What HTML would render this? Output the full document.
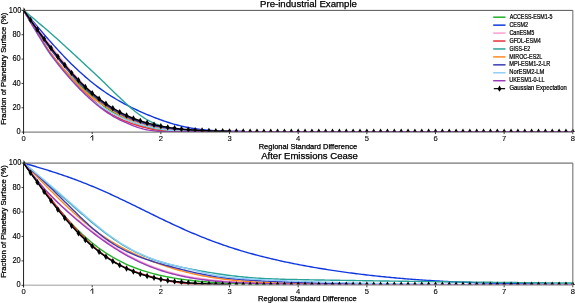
<!DOCTYPE html>
<html><head><meta charset="utf-8"><style>html,body{margin:0;padding:0;background:#fff;overflow:hidden}svg{display:block;will-change:transform}</style></head>
<body><svg width="575" height="303" viewBox="0 0 575 303">
<style>
text{font-family:"Liberation Sans",sans-serif;fill:#000;stroke:#000;stroke-width:0.25px}
.yt{stroke-width:0.15px}
.xt{font-size:7.6px;stroke-width:0.1px}
.lg{stroke-width:0.22px}
</style>
<rect width="575" height="303" fill="#fff"/>
<clipPath id="c10"><rect x="23.55" y="7.199999999999999" width="552.28" height="124.79999999999998"/></clipPath>
<g clip-path="url(#c10)" fill="none" stroke-width="1.4" stroke-linejoin="round">
<path d="M23.55,10.20 L25.27,13.05 L26.98,15.90 L28.70,18.73 L30.42,21.55 L32.13,24.36 L33.85,27.15 L35.57,29.91 L37.28,32.67 L39.00,35.44 L40.72,38.22 L42.43,41.01 L44.15,43.76 L45.86,46.47 L47.58,49.09 L49.30,51.59 L51.01,53.97 L52.73,56.21 L54.45,58.36 L56.16,60.46 L57.88,62.51 L59.60,64.50 L61.31,66.45 L63.03,68.36 L64.75,70.23 L66.46,72.06 L68.18,73.87 L69.90,75.66 L71.61,77.41 L73.33,79.13 L75.05,80.79 L76.76,82.40 L78.48,83.97 L80.19,85.51 L81.91,87.03 L83.63,88.54 L85.34,90.06 L87.06,91.60 L88.78,93.14 L90.49,94.70 L92.21,96.25 L93.93,97.78 L95.64,99.29 L97.36,100.78 L99.08,102.24 L100.79,103.65 L102.51,105.02 L104.23,106.34 L105.94,107.60 L107.66,108.80 L109.37,109.95 L111.09,111.06 L112.81,112.13 L114.52,113.17 L116.24,114.17 L117.96,115.14 L119.67,116.07 L121.39,116.97 L123.11,117.84 L124.82,118.67 L126.54,119.48 L128.26,120.25 L129.97,120.99 L131.69,121.71 L133.41,122.39 L135.12,123.05 L136.84,123.69 L138.56,124.30 L140.27,124.88 L141.99,125.43 L143.71,125.96 L145.42,126.45 L147.14,126.90 L148.85,127.34 L150.57,127.74 L152.29,128.12 L154.00,128.47 L155.72,128.80 L157.44,129.11 L159.15,129.41 L160.87,129.68 L162.59,129.93 L164.30,130.14 L166.02,130.32 L167.74,130.48 L169.45,130.61 L171.17,130.72 L172.89,130.81 L174.60,130.88 L176.32,130.95 L178.03,131.00 L179.75,131.05 L181.47,131.10 L183.18,131.14 L184.90,131.17 L186.62,131.20 L188.33,131.21 L190.05,131.22 L191.77,131.22 L193.48,131.21 L195.20,131.19 L196.92,131.17 L198.63,131.14 L200.35,131.10 L202.07,131.07 L203.78,131.13 L205.50,131.22 L207.22,131.29 L208.93,131.36 L210.65,131.42 L212.37,131.48 L214.08,131.53 L215.80,131.58" stroke="#22b026"/>
<path d="M23.55,10.20 L25.27,12.25 L26.98,14.30 L28.70,16.34 L30.42,18.39 L32.13,20.43 L33.85,22.46 L35.57,24.49 L37.28,26.51 L39.00,28.52 L40.72,30.53 L42.43,32.52 L44.15,34.51 L45.86,36.48 L47.58,38.44 L49.30,40.39 L51.01,42.33 L52.73,44.24 L54.45,46.15 L56.16,48.03 L57.88,49.90 L59.60,51.75 L61.31,53.58 L63.03,55.39 L64.75,57.18 L66.46,58.95 L68.18,60.70 L69.90,62.43 L71.61,64.13 L73.33,65.81 L75.05,67.46 L76.76,69.09 L78.48,70.70 L80.19,72.28 L81.91,73.83 L83.63,75.35 L85.34,76.85 L87.06,78.33 L88.78,79.77 L90.49,81.19 L92.21,82.58 L93.93,83.94 L95.64,85.28 L97.36,86.59 L99.08,87.87 L100.79,89.12 L102.51,90.35 L104.23,91.55 L105.94,92.72 L107.66,93.87 L109.37,94.99 L111.09,96.09 L112.81,97.16 L114.52,98.21 L116.24,99.23 L117.96,100.24 L119.67,101.22 L121.39,102.18 L123.11,103.12 L124.82,104.04 L126.54,104.94 L128.26,105.83 L129.97,106.69 L131.69,107.54 L133.41,108.38 L135.12,109.20 L136.84,110.00 L138.56,110.79 L140.27,111.57 L141.99,112.33 L143.71,113.08 L145.42,113.82 L147.14,114.55 L148.85,115.26 L150.57,115.96 L152.29,116.65 L154.00,117.33 L155.72,117.99 L157.44,118.64 L159.15,119.27 L160.87,119.90 L162.59,120.50 L164.30,121.10 L166.02,121.67 L167.74,122.23 L169.45,122.78 L171.17,123.30 L172.89,123.81 L174.60,124.31 L176.32,124.78 L178.03,125.23 L179.75,125.67 L181.47,126.09 L183.18,126.49 L184.90,126.86 L186.62,127.22 L188.33,127.56 L190.05,127.88 L191.77,128.19 L193.48,128.47 L195.20,128.74 L196.92,128.99 L198.63,129.22 L200.35,129.44 L202.07,129.64 L203.78,129.82 L205.50,129.99 L207.22,130.15 L208.93,130.30 L210.65,130.43 L212.37,130.55 L214.08,130.66 L215.80,130.76 L217.51,130.86 L219.23,130.94 L220.95,131.02 L222.66,131.08 L224.38,131.15 L226.10,131.20 L227.81,131.25 L229.53,131.30 L231.25,131.34 L232.96,131.38 L234.68,131.41 L236.40,131.44 L238.11,131.47 L239.83,131.49 L241.55,131.51 L243.26,131.53 L244.98,131.55" stroke="#1038e0"/>
<path d="M23.55,10.20 L25.27,12.45 L26.98,14.70 L28.70,16.96 L30.42,19.22 L32.13,21.48 L33.85,23.74 L35.57,26.00 L37.28,28.26 L39.00,30.50 L40.72,32.73 L42.43,34.95 L44.15,37.15 L45.86,39.35 L47.58,41.55 L49.30,43.75 L51.01,45.97 L52.73,48.19 L54.45,50.40 L56.16,52.60 L57.88,54.79 L59.60,56.95 L61.31,59.09 L63.03,61.21 L64.75,63.31 L66.46,65.38 L68.18,67.42 L69.90,69.42 L71.61,71.40 L73.33,73.36 L75.05,75.30 L76.76,77.22 L78.48,79.12 L80.19,80.98 L81.91,82.81 L83.63,84.60 L85.34,86.34 L87.06,88.03 L88.78,89.66 L90.49,91.24 L92.21,92.78 L93.93,94.27 L95.64,95.73 L97.36,97.15 L99.08,98.53 L100.79,99.87 L102.51,101.18 L104.23,102.45 L105.94,103.69 L107.66,104.89 L109.37,106.07 L111.09,107.21 L112.81,108.33 L114.52,109.42 L116.24,110.47 L117.96,111.48 L119.67,112.46 L121.39,113.40 L123.11,114.30 L124.82,115.15 L126.54,115.97 L128.26,116.74 L129.97,117.48 L131.69,118.20 L133.41,118.89 L135.12,119.55 L136.84,120.18 L138.56,120.79 L140.27,121.37 L141.99,121.93 L143.71,122.47 L145.42,122.98 L147.14,123.47 L148.85,123.94 L150.57,124.39 L152.29,124.81 L154.00,125.22 L155.72,125.61 L157.44,125.98 L159.15,126.34 L160.87,126.67 L162.59,126.99 L164.30,127.29 L166.02,127.57 L167.74,127.83 L169.45,128.07 L171.17,128.30 L172.89,128.51 L174.60,128.71 L176.32,128.90 L178.03,129.07 L179.75,129.24 L181.47,129.39 L183.18,129.54 L184.90,129.68 L186.62,129.80 L188.33,129.92 L190.05,130.03 L191.77,130.13 L193.48,130.22 L195.20,130.30 L196.92,130.38 L198.63,130.45 L200.35,130.51 L202.07,130.57 L203.78,130.64 L205.50,130.72 L207.22,130.79 L208.93,130.86 L210.65,130.92 L212.37,130.98 L214.08,131.03 L215.80,131.08 L217.51,131.13 L219.23,131.17 L220.95,131.21 L222.66,131.25 L224.38,131.28 L226.10,131.31 L227.81,131.34 L229.53,131.37 L231.25,131.40 L232.96,131.42 L234.68,131.44 L236.40,131.46 L238.11,131.48 L239.83,131.50 L241.55,131.52 L243.26,131.53" stroke="#ff9fcf"/>
<path d="M23.55,10.20 L25.27,13.05 L26.98,15.90 L28.70,18.73 L30.42,21.55 L32.13,24.36 L33.85,27.15 L35.57,29.91 L37.28,32.67 L39.00,35.44 L40.72,38.22 L42.43,41.01 L44.15,43.76 L45.86,46.47 L47.58,49.09 L49.30,51.58 L51.01,53.97 L52.73,56.22 L54.45,58.40 L56.16,60.56 L57.88,62.69 L59.60,64.80 L61.31,66.87 L63.03,68.91 L64.75,70.93 L66.46,72.91 L68.18,74.87 L69.90,76.81 L71.61,78.72 L73.33,80.60 L75.05,82.46 L76.76,84.28 L78.48,86.08 L80.19,87.84 L81.91,89.57 L83.63,91.27 L85.34,92.94 L87.06,94.56 L88.78,96.16 L90.49,97.75 L92.21,99.31 L93.93,100.86 L95.64,102.37 L97.36,103.86 L99.08,105.31 L100.79,106.72 L102.51,108.08 L104.23,109.38 L105.94,110.63 L107.66,111.81 L109.37,112.93 L111.09,113.99 L112.81,114.99 L114.52,115.93 L116.24,116.83 L117.96,117.68 L119.67,118.50 L121.39,119.28 L123.11,120.03 L124.82,120.77 L126.54,121.48 L128.26,122.17 L129.97,122.84 L131.69,123.48 L133.41,124.09 L135.12,124.68 L136.84,125.24 L138.56,125.77 L140.27,126.28 L141.99,126.77 L143.71,127.24 L145.42,127.68 L147.14,128.11 L148.85,128.51 L150.57,128.89 L152.29,129.25 L154.00,129.58 L155.72,129.90 L157.44,130.18 L159.15,130.45 L160.87,130.68 L162.59,130.89 L164.30,131.06 L166.02,131.19 L167.74,131.30 L169.45,131.39 L171.17,131.45 L172.89,131.49 L174.60,131.53 L176.32,131.55" stroke="#e8303c"/>
<path d="M23.55,10.20 L25.27,11.63 L26.98,13.06 L28.70,14.50 L30.42,15.94 L32.13,17.38 L33.85,18.83 L35.57,20.27 L37.28,21.72 L39.00,23.18 L40.72,24.63 L42.43,26.10 L44.15,27.57 L45.86,29.06 L47.58,30.54 L49.30,32.04 L51.01,33.53 L52.73,35.04 L54.45,36.55 L56.16,38.07 L57.88,39.60 L59.60,41.14 L61.31,42.69 L63.03,44.25 L64.75,45.81 L66.46,47.39 L68.18,48.96 L69.90,50.54 L71.61,52.12 L73.33,53.70 L75.05,55.29 L76.76,56.88 L78.48,58.48 L80.19,60.08 L81.91,61.68 L83.63,63.28 L85.34,64.87 L87.06,66.47 L88.78,68.05 L90.49,69.63 L92.21,71.22 L93.93,72.80 L95.64,74.40 L97.36,76.01 L99.08,77.63 L100.79,79.28 L102.51,80.94 L104.23,82.62 L105.94,84.30 L107.66,85.99 L109.37,87.67 L111.09,89.34 L112.81,91.00 L114.52,92.65 L116.24,94.30 L117.96,95.94 L119.67,97.58 L121.39,99.21 L123.11,100.82 L124.82,102.42 L126.54,104.00 L128.26,105.56 L129.97,107.12 L131.69,108.63 L133.41,110.07 L135.12,111.45 L136.84,112.78 L138.56,114.06 L140.27,115.30 L141.99,116.50 L143.71,117.67 L145.42,118.77 L147.14,119.79 L148.85,120.73 L150.57,121.60 L152.29,122.42 L154.00,123.19 L155.72,123.93 L157.44,124.62 L159.15,125.27 L160.87,125.87 L162.59,126.41 L164.30,126.91 L166.02,127.38 L167.74,127.81 L169.45,128.22 L171.17,128.61 L172.89,128.96 L174.60,129.27 L176.32,129.54 L178.03,129.80 L179.75,130.04 L181.47,130.27 L183.18,130.48 L184.90,130.67 L186.62,130.83 L188.33,130.97 L190.05,131.10 L191.77,131.23 L193.48,131.35 L195.20,131.46 L196.92,131.56 L198.63,131.63" stroke="#2aa39a"/>
<path d="M23.55,10.20 L25.27,13.03 L26.98,15.86 L28.70,18.67 L30.42,21.46 L32.13,24.24 L33.85,27.01 L35.57,29.74 L37.28,32.47 L39.00,35.20 L40.72,37.94 L42.43,40.68 L44.15,43.39 L45.86,46.05 L47.58,48.63 L49.30,51.10 L51.01,53.47 L52.73,55.72 L54.45,57.89 L56.16,60.04 L57.88,62.16 L59.60,64.24 L61.31,66.29 L63.03,68.31 L64.75,70.29 L66.46,72.24 L68.18,74.16 L69.90,76.05 L71.61,77.92 L73.33,79.75 L75.05,81.55 L76.76,83.32 L78.48,85.05 L80.19,86.75 L81.91,88.40 L83.63,90.02 L85.34,91.59 L87.06,93.13 L88.78,94.61 L90.49,96.03 L92.21,97.39 L93.93,98.68 L95.64,99.93 L97.36,101.13 L99.08,102.29 L100.79,103.43 L102.51,104.54 L104.23,105.64 L105.94,106.73 L107.66,107.82 L109.37,108.90 L111.09,109.95 L112.81,110.97 L114.52,111.96 L116.24,112.93 L117.96,113.86 L119.67,114.76 L121.39,115.63 L123.11,116.47 L124.82,117.29 L126.54,118.07 L128.26,118.83 L129.97,119.55 L131.69,120.25 L133.41,120.92 L135.12,121.57 L136.84,122.19 L138.56,122.80 L140.27,123.38 L141.99,123.94 L143.71,124.47 L145.42,124.98 L147.14,125.48 L148.85,125.94 L150.57,126.39 L152.29,126.82 L154.00,127.23 L155.72,127.62 L157.44,127.99 L159.15,128.35 L160.87,128.68 L162.59,128.98 L164.30,129.25 L166.02,129.48 L167.74,129.68 L169.45,129.85 L171.17,130.00 L172.89,130.12 L174.60,130.23 L176.32,130.33 L178.03,130.42 L179.75,130.51 L181.47,130.60 L183.18,130.68 L184.90,130.76 L186.62,130.82 L188.33,130.88 L190.05,130.93 L191.77,130.97 L193.48,131.00 L195.20,131.03 L196.92,131.05 L198.63,131.06 L200.35,131.06 L202.07,131.07 L203.78,131.13 L205.50,131.22 L207.22,131.29 L208.93,131.36 L210.65,131.42 L212.37,131.48 L214.08,131.53 L215.80,131.58" stroke="#ff8a22"/>
<path d="M23.55,10.20 L25.27,12.74 L26.98,15.27 L28.70,17.81 L30.42,20.33 L32.13,22.86 L33.85,25.37 L35.57,27.87 L37.28,30.36 L39.00,32.86 L40.72,35.34 L42.43,37.83 L44.15,40.29 L45.86,42.73 L47.58,45.13 L49.30,47.47 L51.01,49.77 L52.73,52.00 L54.45,54.20 L56.16,56.38 L57.88,58.53 L59.60,60.66 L61.31,62.75 L63.03,64.82 L64.75,66.86 L66.46,68.87 L68.18,70.85 L69.90,72.80 L71.61,74.71 L73.33,76.58 L75.05,78.42 L76.76,80.21 L78.48,81.96 L80.19,83.67 L81.91,85.35 L83.63,87.00 L85.34,88.61 L87.06,90.19 L88.78,91.73 L90.49,93.25 L92.21,94.72 L93.93,96.17 L95.64,97.57 L97.36,98.94 L99.08,100.28 L100.79,101.58 L102.51,102.84 L104.23,104.06 L105.94,105.25 L107.66,106.41 L109.37,107.52 L111.09,108.61 L112.81,109.66 L114.52,110.67 L116.24,111.65 L117.96,112.60 L119.67,113.52 L121.39,114.40 L123.11,115.26 L124.82,116.08 L126.54,116.87 L128.26,117.63 L129.97,118.36 L131.69,119.07 L133.41,119.74 L135.12,120.39 L136.84,121.01 L138.56,121.61 L140.27,122.17 L141.99,122.72 L143.71,123.23 L145.42,123.72 L147.14,124.19 L148.85,124.63 L150.57,125.06 L152.29,125.46 L154.00,125.84 L155.72,126.20 L157.44,126.54 L159.15,126.87 L160.87,127.17 L162.59,127.47 L164.30,127.74 L166.02,128.00 L167.74,128.24 L169.45,128.47 L171.17,128.69 L172.89,128.89 L174.60,129.07 L176.32,129.25 L178.03,129.41 L179.75,129.56 L181.47,129.70 L183.18,129.82 L184.90,129.94 L186.62,130.04 L188.33,130.13 L190.05,130.22 L191.77,130.29 L193.48,130.36 L195.20,130.42 L196.92,130.46 L198.63,130.51 L200.35,130.53 L202.07,130.57 L203.78,130.64 L205.50,130.72 L207.22,130.79 L208.93,130.86 L210.65,130.92 L212.37,130.98 L214.08,131.03 L215.80,131.08 L217.51,131.13 L219.23,131.17 L220.95,131.21 L222.66,131.25 L224.38,131.28 L226.10,131.31 L227.81,131.34 L229.53,131.37 L231.25,131.40 L232.96,131.42 L234.68,131.44 L236.40,131.46 L238.11,131.48 L239.83,131.50 L241.55,131.52 L243.26,131.53" stroke="#3b3bb8"/>
<path d="M23.55,10.20 L25.27,13.21 L26.98,16.20 L28.70,19.17 L30.42,22.12 L32.13,25.05 L33.85,27.95 L35.57,30.82 L37.28,33.67 L39.00,36.53 L40.72,39.39 L42.43,42.26 L44.15,45.09 L45.86,47.86 L47.58,50.53 L49.30,53.07 L51.01,55.47 L52.73,57.73 L54.45,59.90 L56.16,62.05 L57.88,64.18 L59.60,66.26 L61.31,68.32 L63.03,70.35 L64.75,72.36 L66.46,74.33 L68.18,76.28 L69.90,78.22 L71.61,80.12 L73.33,82.00 L75.05,83.85 L76.76,85.66 L78.48,87.44 L80.19,89.18 L81.91,90.89 L83.63,92.56 L85.34,94.19 L87.06,95.80 L88.78,97.35 L90.49,98.82 L92.21,100.23 L93.93,101.55 L95.64,102.81 L97.36,104.01 L99.08,105.17 L100.79,106.28 L102.51,107.35 L104.23,108.40 L105.94,109.42 L107.66,110.44 L109.37,111.44 L111.09,112.41 L112.81,113.35 L114.52,114.26 L116.24,115.13 L117.96,115.98 L119.67,116.80 L121.39,117.58 L123.11,118.34 L124.82,119.07 L126.54,119.78 L128.26,120.45 L129.97,121.10 L131.69,121.72 L133.41,122.31 L135.12,122.88 L136.84,123.43 L138.56,123.97 L140.27,124.48 L141.99,124.98 L143.71,125.46 L145.42,125.92 L147.14,126.36 L148.85,126.79 L150.57,127.19 L152.29,127.58 L154.00,127.94 L155.72,128.28 L157.44,128.60 L159.15,128.90 L160.87,129.18 L162.59,129.43 L164.30,129.67 L166.02,129.89 L167.74,130.08 L169.45,130.26 L171.17,130.43 L172.89,130.58 L174.60,130.71 L176.32,130.83 L178.03,130.93 L179.75,131.02 L181.47,131.10 L183.18,131.16 L184.90,131.21 L186.62,131.25 L188.33,131.27 L190.05,131.28 L191.77,131.29 L193.48,131.28 L195.20,131.25 L196.92,131.22 L198.63,131.18 L200.35,131.11 L202.07,131.07 L203.78,131.13 L205.50,131.22 L207.22,131.29 L208.93,131.36 L210.65,131.42 L212.37,131.48 L214.08,131.53 L215.80,131.58" stroke="#8fcdfa"/>
<path d="M23.55,10.20 L25.27,13.15 L26.98,16.09 L28.70,19.01 L30.42,21.91 L32.13,24.79 L33.85,27.64 L35.57,30.46 L37.28,33.27 L39.00,36.07 L40.72,38.87 L42.43,41.67 L44.15,44.43 L45.86,47.14 L47.58,49.77 L49.30,52.31 L51.01,54.74 L52.73,57.07 L54.45,59.33 L56.16,61.57 L57.88,63.77 L59.60,65.95 L61.31,68.08 L63.03,70.19 L64.75,72.26 L66.46,74.30 L68.18,76.31 L69.90,78.28 L71.61,80.22 L73.33,82.13 L75.05,84.00 L76.76,85.83 L78.48,87.63 L80.19,89.39 L81.91,91.11 L83.63,92.80 L85.34,94.45 L87.06,96.07 L88.78,97.66 L90.49,99.22 L92.21,100.75 L93.93,102.24 L95.64,103.70 L97.36,105.13 L99.08,106.52 L100.79,107.86 L102.51,109.17 L104.23,110.43 L105.94,111.65 L107.66,112.82 L109.37,113.94 L111.09,115.02 L112.81,116.05 L114.52,117.03 L116.24,117.98 L117.96,118.89 L119.67,119.77 L121.39,120.61 L123.11,121.43 L124.82,122.22 L126.54,122.98 L128.26,123.73 L129.97,124.45 L131.69,125.15 L133.41,125.81 L135.12,126.45 L136.84,127.06 L138.56,127.65 L140.27,128.19 L141.99,128.68 L143.71,129.13 L145.42,129.52 L147.14,129.86 L148.85,130.16 L150.57,130.42 L152.29,130.65 L154.00,130.85 L155.72,131.03 L157.44,131.19 L159.15,131.35 L160.87,131.48 L162.59,131.62 L572.83,131.70" stroke="#9a3cb8"/>
<path d="M23.55,10.20 L25.27,12.62 L26.98,15.05 L28.70,17.46 L30.42,19.88 L32.13,22.29 L33.85,24.69 L35.57,27.08 L37.28,29.46 L39.00,31.83 L40.72,34.19 L42.43,36.53 L44.15,38.85 L45.86,41.16 L47.58,43.45 L49.30,45.72 L51.01,47.97 L52.73,50.19 L54.45,52.40 L56.16,54.57 L57.88,56.73 L59.60,58.85 L61.31,60.95 L63.03,63.02 L64.75,65.06 L66.46,67.07 L68.18,69.04 L69.90,70.99 L71.61,72.90 L73.33,74.78 L75.05,76.63 L76.76,78.44 L78.48,80.22 L80.19,81.96 L81.91,83.67 L83.63,85.34 L85.34,86.97 L87.06,88.57 L88.78,90.13 L90.49,91.66 L92.21,93.15 L93.93,94.60 L95.64,96.01 L97.36,97.39 L99.08,98.73 L100.79,100.04 L102.51,101.31 L104.23,102.54 L105.94,103.74 L107.66,104.90 L109.37,106.03 L111.09,107.12 L112.81,108.18 L114.52,109.20 L116.24,110.19 L117.96,111.15 L119.67,112.08 L121.39,112.97 L123.11,113.83 L124.82,114.66 L126.54,115.47 L128.26,116.24 L129.97,116.98 L131.69,117.70 L133.41,118.38 L135.12,119.04 L136.84,119.68 L138.56,120.29 L140.27,120.87 L141.99,121.43 L143.71,121.97 L145.42,122.48 L147.14,122.97 L148.85,123.44 L150.57,123.89 L152.29,124.31 L154.00,124.72 L155.72,125.11 L157.44,125.48 L159.15,125.84 L160.87,126.17 L162.59,126.49 L164.30,126.80 L166.02,127.08 L167.74,127.36 L169.45,127.62 L171.17,127.87 L172.89,128.10 L174.60,128.32 L176.32,128.53 L178.03,128.73 L179.75,128.92 L181.47,129.09 L183.18,129.26 L184.90,129.42 L186.62,129.57 L188.33,129.71 L190.05,129.84 L191.77,129.96 L193.48,130.08 L195.20,130.19 L196.92,130.29 L198.63,130.39 L200.35,130.48 L202.07,130.57 L203.78,130.65 L205.50,130.72 L207.22,130.79 L208.93,130.86 L210.65,130.92 L212.37,130.98 L214.08,131.03 L215.80,131.08 L217.51,131.13 L219.23,131.17 L220.95,131.21 L222.66,131.25 L224.38,131.28 L226.10,131.31 L227.81,131.34 L229.53,131.37" stroke="#000" stroke-width="1.5"/>
<path d="M23.55,7.00 L25.45,10.20 L23.55,13.40 L21.65,10.20Z" fill="#000" stroke="none"/>
<path d="M30.42,16.68 L32.32,19.88 L30.42,23.08 L28.52,19.88Z" fill="#000" stroke="none"/>
<path d="M37.28,26.26 L39.18,29.46 L37.28,32.66 L35.38,29.46Z" fill="#000" stroke="none"/>
<path d="M44.15,35.65 L46.05,38.85 L44.15,42.05 L42.25,38.85Z" fill="#000" stroke="none"/>
<path d="M51.01,44.77 L52.91,47.97 L51.01,51.17 L49.11,47.97Z" fill="#000" stroke="none"/>
<path d="M57.88,53.53 L59.78,56.73 L57.88,59.93 L55.98,56.73Z" fill="#000" stroke="none"/>
<path d="M64.75,61.86 L66.65,65.06 L64.75,68.26 L62.85,65.06Z" fill="#000" stroke="none"/>
<path d="M71.61,69.70 L73.51,72.90 L71.61,76.10 L69.71,72.90Z" fill="#000" stroke="none"/>
<path d="M78.48,77.02 L80.38,80.22 L78.48,83.42 L76.58,80.22Z" fill="#000" stroke="none"/>
<path d="M85.34,83.77 L87.24,86.97 L85.34,90.17 L83.44,86.97Z" fill="#000" stroke="none"/>
<path d="M92.21,89.95 L94.11,93.15 L92.21,96.35 L90.31,93.15Z" fill="#000" stroke="none"/>
<path d="M99.08,95.53 L100.98,98.73 L99.08,101.93 L97.18,98.73Z" fill="#000" stroke="none"/>
<path d="M105.94,100.54 L107.84,103.74 L105.94,106.94 L104.04,103.74Z" fill="#000" stroke="none"/>
<path d="M112.81,104.98 L114.71,108.18 L112.81,111.38 L110.91,108.18Z" fill="#000" stroke="none"/>
<path d="M119.67,108.88 L121.57,112.08 L119.67,115.28 L117.77,112.08Z" fill="#000" stroke="none"/>
<path d="M126.54,112.27 L128.44,115.47 L126.54,118.67 L124.64,115.47Z" fill="#000" stroke="none"/>
<path d="M133.41,115.18 L135.31,118.38 L133.41,121.58 L131.51,118.38Z" fill="#000" stroke="none"/>
<path d="M140.27,117.67 L142.17,120.87 L140.27,124.07 L138.37,120.87Z" fill="#000" stroke="none"/>
<path d="M147.14,119.77 L149.04,122.97 L147.14,126.17 L145.24,122.97Z" fill="#000" stroke="none"/>
<path d="M154.00,121.52 L155.90,124.72 L154.00,127.92 L152.10,124.72Z" fill="#000" stroke="none"/>
<path d="M160.87,122.97 L162.77,126.17 L160.87,129.37 L158.97,126.17Z" fill="#000" stroke="none"/>
<path d="M167.74,124.16 L169.64,127.36 L167.74,130.56 L165.84,127.36Z" fill="#000" stroke="none"/>
<path d="M174.60,125.12 L176.50,128.32 L174.60,131.52 L172.70,128.32Z" fill="#000" stroke="none"/>
<path d="M181.47,125.89 L183.37,129.09 L181.47,132.29 L179.57,129.09Z" fill="#000" stroke="none"/>
<path d="M188.33,126.51 L190.23,129.71 L188.33,132.91 L186.43,129.71Z" fill="#000" stroke="none"/>
<path d="M195.20,126.99 L197.10,130.19 L195.20,133.39 L193.30,130.19Z" fill="#000" stroke="none"/>
<path d="M202.07,127.37 L203.97,130.57 L202.07,133.77 L200.17,130.57Z" fill="#000" stroke="none"/>
<path d="M208.93,127.66 L210.83,130.86 L208.93,134.06 L207.03,130.86Z" fill="#000" stroke="none"/>
<path d="M215.80,127.88 L217.70,131.08 L215.80,134.28 L213.90,131.08Z" fill="#000" stroke="none"/>
<path d="M222.66,128.05 L224.56,131.25 L222.66,134.45 L220.76,131.25Z" fill="#000" stroke="none"/>
<path d="M229.53,128.17 L231.43,131.37 L229.53,134.57 L227.63,131.37Z" fill="#000" stroke="none"/>
<path d="M236.40,128.26 L238.30,131.46 L236.40,134.66 L234.50,131.46Z" fill="#000" stroke="none"/>
<path d="M243.26,128.33 L245.16,131.53 L243.26,134.73 L241.36,131.53Z" fill="#000" stroke="none"/>
<path d="M250.13,128.38 L252.03,131.58 L250.13,134.78 L248.23,131.58Z" fill="#000" stroke="none"/>
<path d="M256.99,128.42 L258.89,131.62 L256.99,134.82 L255.09,131.62Z" fill="#000" stroke="none"/>
<path d="M263.86,128.44 L265.76,131.64 L263.86,134.84 L261.96,131.64Z" fill="#000" stroke="none"/>
<path d="M270.73,128.46 L272.63,131.66 L270.73,134.86 L268.83,131.66Z" fill="#000" stroke="none"/>
<path d="M277.59,128.47 L279.49,131.67 L277.59,134.87 L275.69,131.67Z" fill="#000" stroke="none"/>
<path d="M284.46,128.48 L286.36,131.68 L284.46,134.88 L282.56,131.68Z" fill="#000" stroke="none"/>
<path d="M291.32,128.49 L293.22,131.69 L291.32,134.89 L289.42,131.69Z" fill="#000" stroke="none"/>
<path d="M298.19,128.49 L300.09,131.69 L298.19,134.89 L296.29,131.69Z" fill="#000" stroke="none"/>
<path d="M305.06,128.49 L306.96,131.69 L305.06,134.89 L303.16,131.69Z" fill="#000" stroke="none"/>
<path d="M311.92,128.50 L313.82,131.70 L311.92,134.90 L310.02,131.70Z" fill="#000" stroke="none"/>
<path d="M318.79,128.50 L320.69,131.70 L318.79,134.90 L316.89,131.70Z" fill="#000" stroke="none"/>
<path d="M325.65,128.50 L327.55,131.70 L325.65,134.90 L323.75,131.70Z" fill="#000" stroke="none"/>
<path d="M332.52,128.50 L334.42,131.70 L332.52,134.90 L330.62,131.70Z" fill="#000" stroke="none"/>
<path d="M339.39,128.50 L341.29,131.70 L339.39,134.90 L337.49,131.70Z" fill="#000" stroke="none"/>
<path d="M346.25,128.50 L348.15,131.70 L346.25,134.90 L344.35,131.70Z" fill="#000" stroke="none"/>
<path d="M353.12,128.50 L355.02,131.70 L353.12,134.90 L351.22,131.70Z" fill="#000" stroke="none"/>
<path d="M359.98,128.50 L361.88,131.70 L359.98,134.90 L358.08,131.70Z" fill="#000" stroke="none"/>
<path d="M366.85,128.50 L368.75,131.70 L366.85,134.90 L364.95,131.70Z" fill="#000" stroke="none"/>
<path d="M373.72,128.50 L375.62,131.70 L373.72,134.90 L371.82,131.70Z" fill="#000" stroke="none"/>
<path d="M380.58,128.50 L382.48,131.70 L380.58,134.90 L378.68,131.70Z" fill="#000" stroke="none"/>
<path d="M387.45,128.50 L389.35,131.70 L387.45,134.90 L385.55,131.70Z" fill="#000" stroke="none"/>
<path d="M394.31,128.50 L396.21,131.70 L394.31,134.90 L392.41,131.70Z" fill="#000" stroke="none"/>
<path d="M401.18,128.50 L403.08,131.70 L401.18,134.90 L399.28,131.70Z" fill="#000" stroke="none"/>
<path d="M408.05,128.50 L409.95,131.70 L408.05,134.90 L406.15,131.70Z" fill="#000" stroke="none"/>
<path d="M414.91,128.50 L416.81,131.70 L414.91,134.90 L413.01,131.70Z" fill="#000" stroke="none"/>
<path d="M421.78,128.50 L423.68,131.70 L421.78,134.90 L419.88,131.70Z" fill="#000" stroke="none"/>
<path d="M428.64,128.50 L430.54,131.70 L428.64,134.90 L426.74,131.70Z" fill="#000" stroke="none"/>
<path d="M435.51,128.50 L437.41,131.70 L435.51,134.90 L433.61,131.70Z" fill="#000" stroke="none"/>
<path d="M442.38,128.50 L444.28,131.70 L442.38,134.90 L440.48,131.70Z" fill="#000" stroke="none"/>
<path d="M449.24,128.50 L451.14,131.70 L449.24,134.90 L447.34,131.70Z" fill="#000" stroke="none"/>
<path d="M456.11,128.50 L458.01,131.70 L456.11,134.90 L454.21,131.70Z" fill="#000" stroke="none"/>
<path d="M462.97,128.50 L464.87,131.70 L462.97,134.90 L461.07,131.70Z" fill="#000" stroke="none"/>
<path d="M469.84,128.50 L471.74,131.70 L469.84,134.90 L467.94,131.70Z" fill="#000" stroke="none"/>
<path d="M476.71,128.50 L478.61,131.70 L476.71,134.90 L474.81,131.70Z" fill="#000" stroke="none"/>
<path d="M483.57,128.50 L485.47,131.70 L483.57,134.90 L481.67,131.70Z" fill="#000" stroke="none"/>
<path d="M490.44,128.50 L492.34,131.70 L490.44,134.90 L488.54,131.70Z" fill="#000" stroke="none"/>
<path d="M497.30,128.50 L499.20,131.70 L497.30,134.90 L495.40,131.70Z" fill="#000" stroke="none"/>
<path d="M504.17,128.50 L506.07,131.70 L504.17,134.90 L502.27,131.70Z" fill="#000" stroke="none"/>
<path d="M511.04,128.50 L512.94,131.70 L511.04,134.90 L509.14,131.70Z" fill="#000" stroke="none"/>
<path d="M517.90,128.50 L519.80,131.70 L517.90,134.90 L516.00,131.70Z" fill="#000" stroke="none"/>
<path d="M524.77,128.50 L526.67,131.70 L524.77,134.90 L522.87,131.70Z" fill="#000" stroke="none"/>
<path d="M531.63,128.50 L533.53,131.70 L531.63,134.90 L529.73,131.70Z" fill="#000" stroke="none"/>
<path d="M538.50,128.50 L540.40,131.70 L538.50,134.90 L536.60,131.70Z" fill="#000" stroke="none"/>
<path d="M545.37,128.50 L547.27,131.70 L545.37,134.90 L543.47,131.70Z" fill="#000" stroke="none"/>
<path d="M552.23,128.50 L554.13,131.70 L552.23,134.90 L550.33,131.70Z" fill="#000" stroke="none"/>
<path d="M559.10,128.50 L561.00,131.70 L559.10,134.90 L557.20,131.70Z" fill="#000" stroke="none"/>
<path d="M565.96,128.50 L567.86,131.70 L565.96,134.90 L564.06,131.70Z" fill="#000" stroke="none"/>
<path d="M572.83,128.50 L574.73,131.70 L572.83,134.90 L570.93,131.70Z" fill="#000" stroke="none"/>
</g>
<path d="M23.55,10.4 H572.8299999999999" stroke="#555" stroke-width="1"/>
<path d="M572.8299999999999,10.4 V132.1" stroke="#666" stroke-width="1"/>
<path d="M23.55,132.1 H572.8299999999999" stroke="#666" stroke-width="1.0"/>
<path d="M23.55,9.9 V134.1" stroke="#222" stroke-width="1"/>
<path d="M21.55,132.10 H23.55" stroke="#222" stroke-width="0.9"/>
<text x="16.55" y="134.20" font-size="9.0" textLength="4.15" lengthAdjust="spacingAndGlyphs" class="yt">0</text>
<path d="M21.55,107.76 H23.55" stroke="#222" stroke-width="0.9"/>
<text x="12.41" y="109.86" font-size="9.0" textLength="8.31" lengthAdjust="spacingAndGlyphs" class="yt">20</text>
<path d="M21.55,83.42 H23.55" stroke="#222" stroke-width="0.9"/>
<text x="12.41" y="85.52" font-size="9.0" textLength="8.31" lengthAdjust="spacingAndGlyphs" class="yt">40</text>
<path d="M21.55,59.08 H23.55" stroke="#222" stroke-width="0.9"/>
<text x="12.41" y="61.18" font-size="9.0" textLength="8.31" lengthAdjust="spacingAndGlyphs" class="yt">60</text>
<path d="M21.55,34.74 H23.55" stroke="#222" stroke-width="0.9"/>
<text x="12.41" y="36.84" font-size="9.0" textLength="8.31" lengthAdjust="spacingAndGlyphs" class="yt">80</text>
<path d="M21.55,10.40 H23.55" stroke="#222" stroke-width="0.9"/>
<text x="8.86" y="12.50" font-size="9.0" textLength="12.46" lengthAdjust="spacingAndGlyphs" class="yt">100</text>
<path d="M23.55,132.1 V134.1" stroke="#222" stroke-width="0.9"/>
<text x="23.55" y="140.60" text-anchor="middle" class="xt">0</text>
<path d="M92.21,132.1 V134.1" stroke="#222" stroke-width="0.9"/>
<path d="M92.76,140.60 V135.45 L90.46,137.45" fill="none" stroke="#111" stroke-width="0.95" stroke-linejoin="miter"/>
<path d="M160.87,132.1 V134.1" stroke="#222" stroke-width="0.9"/>
<text x="160.87" y="140.60" text-anchor="middle" class="xt">2</text>
<path d="M229.53,132.1 V134.1" stroke="#222" stroke-width="0.9"/>
<text x="229.53" y="140.60" text-anchor="middle" class="xt">3</text>
<path d="M298.19,132.1 V134.1" stroke="#222" stroke-width="0.9"/>
<text x="298.19" y="140.60" text-anchor="middle" class="xt">4</text>
<path d="M366.85,132.1 V134.1" stroke="#222" stroke-width="0.9"/>
<text x="366.85" y="140.60" text-anchor="middle" class="xt">5</text>
<path d="M435.51,132.1 V134.1" stroke="#222" stroke-width="0.9"/>
<text x="435.51" y="140.60" text-anchor="middle" class="xt">6</text>
<path d="M504.17,132.1 V134.1" stroke="#222" stroke-width="0.9"/>
<text x="504.17" y="140.60" text-anchor="middle" class="xt">7</text>
<path d="M572.83,132.1 V134.1" stroke="#222" stroke-width="0.9"/>
<text x="572.83" y="140.60" text-anchor="middle" class="xt">8</text>
<clipPath id="c163"><rect x="23.55" y="160.0" width="552.28" height="125.10000000000001"/></clipPath>
<g clip-path="url(#c163)" fill="none" stroke-width="1.4" stroke-linejoin="round">
<path d="M23.55,163.00 L25.27,165.36 L26.98,167.72 L28.70,170.08 L30.42,172.43 L32.13,174.78 L33.85,177.12 L35.57,179.45 L37.28,181.77 L39.00,184.07 L40.72,186.36 L42.43,188.64 L44.15,190.89 L45.86,193.13 L47.58,195.35 L49.30,197.55 L51.01,199.72 L52.73,201.88 L54.45,204.00 L56.16,206.10 L57.88,208.18 L59.60,210.22 L61.31,212.24 L63.03,214.23 L64.75,216.19 L66.46,218.11 L68.18,220.01 L69.90,221.87 L71.61,223.70 L73.33,225.49 L75.05,227.25 L76.76,228.98 L78.48,230.67 L80.19,232.33 L81.91,233.95 L83.63,235.54 L85.34,237.09 L87.06,238.61 L88.78,240.09 L90.49,241.53 L92.21,242.94 L93.93,244.32 L95.64,245.66 L97.36,246.97 L99.08,248.24 L100.79,249.48 L102.51,250.68 L104.23,251.85 L105.94,252.99 L107.66,254.10 L109.37,255.17 L111.09,256.22 L112.81,257.23 L114.52,258.21 L116.24,259.17 L117.96,260.09 L119.67,260.99 L121.39,261.85 L123.11,262.69 L124.82,263.51 L126.54,264.30 L128.26,265.06 L129.97,265.80 L131.69,266.51 L133.41,267.20 L135.12,267.86 L136.84,268.51 L138.56,269.13 L140.27,269.73 L141.99,270.31 L143.71,270.87 L145.42,271.41 L147.14,271.94 L148.85,272.44 L150.57,272.93 L152.29,273.39 L154.00,273.85 L155.72,274.28 L157.44,274.70 L159.15,275.11 L160.87,275.50 L162.59,275.88 L164.30,276.24 L166.02,276.59 L167.74,276.92 L169.45,277.25 L171.17,277.56 L172.89,277.86 L174.60,278.15 L176.32,278.43 L178.03,278.70 L179.75,278.96 L181.47,279.20 L183.18,279.44 L184.90,279.67 L186.62,279.89 L188.33,280.10 L190.05,280.31 L191.77,280.51 L193.48,280.69 L195.20,280.87 L196.92,281.05 L198.63,281.22 L200.35,281.38 L202.07,281.53 L203.78,281.68 L205.50,281.82 L207.22,281.96 L208.93,282.09 L210.65,282.21 L212.37,282.33 L214.08,282.45 L215.80,282.56 L217.51,282.66 L219.23,282.77 L220.95,282.86 L222.66,282.96 L224.38,283.04 L226.10,283.13 L227.81,283.21 L229.53,283.29 L231.25,283.36 L232.96,283.44 L234.68,283.50 L236.40,283.57 L238.11,283.63 L239.83,283.69 L241.55,283.75 L243.26,283.80 L244.98,283.85 L246.69,283.90 L248.41,283.95 L250.13,283.99 L251.84,284.04 L253.56,284.08 L255.28,284.11 L256.99,284.15 L258.71,284.19 L260.43,284.22 L262.14,284.25 L263.86,284.28 L265.58,284.31 L267.29,284.34 L269.01,284.36 L270.73,284.39 L272.44,284.41 L274.16,284.43 L275.88,284.45 L277.59,284.47 L279.31,284.49 L281.02,284.51 L282.74,284.53 L284.46,284.54 L286.17,284.56 L287.89,284.57 L289.61,284.59 L291.32,284.60 L293.04,284.61 L294.76,284.62 L296.47,284.63" stroke="#22b026"/>
<path d="M23.55,163.00 L25.27,163.50 L26.98,164.01 L28.70,164.51 L30.42,165.02 L32.13,165.52 L33.85,166.03 L35.57,166.54 L37.28,167.06 L39.00,167.57 L40.72,168.09 L42.43,168.61 L44.15,169.14 L45.86,169.67 L47.58,170.20 L49.30,170.74 L51.01,171.28 L52.73,171.83 L54.45,172.38 L56.16,172.94 L57.88,173.51 L59.60,174.08 L61.31,174.65 L63.03,175.24 L64.75,175.83 L66.46,176.42 L68.18,177.03 L69.90,177.64 L71.61,178.25 L73.33,178.88 L75.05,179.51 L76.76,180.15 L78.48,180.80 L80.19,181.45 L81.91,182.11 L83.63,182.79 L85.34,183.46 L87.06,184.15 L88.78,184.84 L90.49,185.54 L92.21,186.25 L93.93,186.97 L95.64,187.69 L97.36,188.42 L99.08,189.16 L100.79,189.90 L102.51,190.65 L104.23,191.41 L105.94,192.18 L107.66,192.95 L109.37,193.73 L111.09,194.51 L112.81,195.30 L114.52,196.09 L116.24,196.90 L117.96,197.70 L119.67,198.51 L121.39,199.33 L123.11,200.14 L124.82,200.97 L126.54,201.79 L128.26,202.62 L129.97,203.46 L131.69,204.29 L133.41,205.13 L135.12,205.97 L136.84,206.81 L138.56,207.65 L140.27,208.50 L141.99,209.34 L143.71,210.19 L145.42,211.03 L147.14,211.88 L148.85,212.72 L150.57,213.57 L152.29,214.41 L154.00,215.25 L155.72,216.09 L157.44,216.93 L159.15,217.76 L160.87,218.59 L162.59,219.42 L164.30,220.25 L166.02,221.07 L167.74,221.88 L169.45,222.70 L171.17,223.50 L172.89,224.31 L174.60,225.11 L176.32,225.90 L178.03,226.69 L179.75,227.47 L181.47,228.24 L183.18,229.01 L184.90,229.78 L186.62,230.54 L188.33,231.29 L190.05,232.03 L191.77,232.77 L193.48,233.50 L195.20,234.22 L196.92,234.93 L198.63,235.64 L200.35,236.34 L202.07,237.03 L203.78,237.72 L205.50,238.40 L207.22,239.07 L208.93,239.73 L210.65,240.38 L212.37,241.03 L214.08,241.66 L215.80,242.30 L217.51,242.92 L219.23,243.53 L220.95,244.14 L222.66,244.74 L224.38,245.33 L226.10,245.91 L227.81,246.49 L229.53,247.06 L231.25,247.62 L232.96,248.17 L234.68,248.71 L236.40,249.25 L238.11,249.78 L239.83,250.31 L241.55,250.82 L243.26,251.33 L244.98,251.83 L246.69,252.33 L248.41,252.82 L250.13,253.30 L251.84,253.78 L253.56,254.25 L255.28,254.71 L256.99,255.16 L258.71,255.62 L260.43,256.06 L262.14,256.50 L263.86,256.93 L265.58,257.36 L267.29,257.78 L269.01,258.19 L270.73,258.60 L272.44,259.01 L274.16,259.41 L275.88,259.80 L277.59,260.19 L279.31,260.57 L281.02,260.95 L282.74,261.33 L284.46,261.70 L286.17,262.06 L287.89,262.42 L289.61,262.78 L291.32,263.13 L293.04,263.47 L294.76,263.82 L296.47,264.15 L298.19,264.49 L299.91,264.82 L301.62,265.14 L303.34,265.47 L305.06,265.78 L306.77,266.10 L308.49,266.41 L310.21,266.72 L311.92,267.02 L313.64,267.32 L315.36,267.61 L317.07,267.91 L318.79,268.19 L320.50,268.48 L322.22,268.76 L323.94,269.04 L325.65,269.31 L327.37,269.59 L329.09,269.85 L330.80,270.12 L332.52,270.38 L334.24,270.64 L335.95,270.89 L337.67,271.15 L339.39,271.39 L341.10,271.64 L342.82,271.88 L344.54,272.12 L346.25,272.36 L347.97,272.59 L349.69,272.82 L351.40,273.05 L353.12,273.27 L354.83,273.49 L356.55,273.71 L358.27,273.93 L359.98,274.14 L361.70,274.35 L363.42,274.56 L365.13,274.76 L366.85,274.96 L368.57,275.16 L370.28,275.35 L372.00,275.55 L373.72,275.74 L375.43,275.92 L377.15,276.11 L378.87,276.29 L380.58,276.47 L382.30,276.64 L384.01,276.82 L385.73,276.99 L387.45,277.15 L389.16,277.32 L390.88,277.48 L392.60,277.64 L394.31,277.80 L396.03,277.96 L397.75,278.11 L399.46,278.26 L401.18,278.40 L402.90,278.55 L404.61,278.69 L406.33,278.83 L408.05,278.97 L409.76,279.10 L411.48,279.24 L413.20,279.37 L414.91,279.50 L416.63,279.62 L418.34,279.74 L420.06,279.87 L421.78,279.98 L423.49,280.10 L425.21,280.22 L426.93,280.33 L428.64,280.44 L430.36,280.55 L432.08,280.65 L433.79,280.76 L435.51,280.86 L437.23,280.96 L438.94,281.06 L440.66,281.15 L442.38,281.24 L444.09,281.34 L445.81,281.43 L447.53,281.51 L449.24,281.60 L450.96,281.69 L452.68,281.77 L454.39,281.85 L456.11,281.93 L457.82,282.01 L459.54,282.08 L461.26,282.16 L462.97,282.23 L464.69,282.30 L466.41,282.37 L468.12,282.44 L469.84,282.50 L471.56,282.57 L473.27,282.63 L474.99,282.69 L476.71,282.75 L478.42,282.81 L480.14,282.87 L481.86,282.92 L483.57,282.98 L485.29,283.03 L487.00,283.08 L488.72,283.13 L490.44,283.18 L492.15,283.23 L493.87,283.28 L495.59,283.32 L497.30,283.37 L499.02,283.41 L500.74,283.45 L502.45,283.49 L504.17,283.53 L505.89,283.57 L507.60,283.61 L509.32,283.65 L511.04,283.68 L512.75,283.72 L514.47,283.75 L516.19,283.79 L517.90,283.82 L519.62,283.85 L521.33,283.88 L523.05,283.91 L524.77,283.94 L526.48,283.97 L528.20,283.99 L529.92,284.02 L531.63,284.05 L533.35,284.07 L535.07,284.10 L536.78,284.12 L538.50,284.14 L540.22,284.16 L541.93,284.19 L543.65,284.21 L545.37,284.23 L547.08,284.25 L548.80,284.27 L550.52,284.28 L552.23,284.30 L553.95,284.32 L555.66,284.34 L557.38,284.35 L559.10,284.37 L560.81,284.38 L562.53,284.40 L564.25,284.41 L565.96,284.43 L567.68,284.44 L569.40,284.45 L571.11,284.47 L572.83,284.48" stroke="#1038e0"/>
<path d="M23.55,163.00 L25.27,165.29 L26.98,167.58 L28.70,169.85 L30.42,172.09 L32.13,174.31 L33.85,176.49 L35.57,178.64 L37.28,180.74 L39.00,182.80 L40.72,184.81 L42.43,186.77 L44.15,188.68 L45.86,190.55 L47.58,192.37 L49.30,194.15 L51.01,195.89 L52.73,197.59 L54.45,199.26 L56.16,200.89 L57.88,202.50 L59.60,204.09 L61.31,205.65 L63.03,207.19 L64.75,208.71 L66.46,210.21 L68.18,211.70 L69.90,213.18 L71.61,214.64 L73.33,216.09 L75.05,217.53 L76.76,218.96 L78.48,220.38 L80.19,221.78 L81.91,223.18 L83.63,224.56 L85.34,225.93 L87.06,227.29 L88.78,228.64 L90.49,229.97 L92.21,231.29 L93.93,232.60 L95.64,233.89 L97.36,235.17 L99.08,236.43 L100.79,237.68 L102.51,238.91 L104.23,240.12 L105.94,241.32 L107.66,242.50 L109.37,243.67 L111.09,244.82 L112.81,245.94 L114.52,247.05 L116.24,248.15 L117.96,249.22 L119.67,250.27 L121.39,251.31 L123.11,252.32 L124.82,253.31 L126.54,254.29 L128.26,255.24 L129.97,256.18 L131.69,257.09 L133.41,257.99 L135.12,258.86 L136.84,259.71 L138.56,260.54 L140.27,261.35 L141.99,262.15 L143.71,262.92 L145.42,263.67 L147.14,264.40 L148.85,265.11 L150.57,265.80 L152.29,266.47 L154.00,267.12 L155.72,267.76 L157.44,268.37 L159.15,268.97 L160.87,269.54 L162.59,270.10 L164.30,270.64 L166.02,271.17 L167.74,271.67 L169.45,272.16 L171.17,272.63 L172.89,273.09 L174.60,273.53 L176.32,273.96 L178.03,274.37 L179.75,274.76 L181.47,275.14 L183.18,275.51 L184.90,275.86 L186.62,276.20 L188.33,276.53 L190.05,276.85 L191.77,277.15 L193.48,277.44 L195.20,277.72 L196.92,277.99 L198.63,278.25 L200.35,278.49 L202.07,278.73 L203.78,278.96 L205.50,279.18 L207.22,279.39 L208.93,279.59 L210.65,279.79 L212.37,279.97 L214.08,280.15 L215.80,280.32 L217.51,280.48 L219.23,280.64 L220.95,280.79 L222.66,280.94 L224.38,281.08 L226.10,281.21 L227.81,281.34 L229.53,281.46 L231.25,281.58 L232.96,281.69 L234.68,281.80 L236.40,281.90 L238.11,282.00 L239.83,282.10 L241.55,282.19 L243.26,282.28 L244.98,282.36 L246.69,282.44 L248.41,282.52 L250.13,282.60 L251.84,282.67 L253.56,282.74 L255.28,282.81 L256.99,282.87 L258.71,282.93 L260.43,283.00 L262.14,283.05 L263.86,283.11 L265.58,283.16 L267.29,283.22 L269.01,283.27 L270.73,283.32 L272.44,283.36 L274.16,283.41 L275.88,283.45 L277.59,283.49 L279.31,283.54 L281.02,283.58 L282.74,283.61 L284.46,283.65 L286.17,283.69 L287.89,283.72 L289.61,283.76 L291.32,283.79 L293.04,283.82 L294.76,283.85 L296.47,283.88 L298.19,283.91 L299.91,283.94 L301.62,283.97 L303.34,283.99 L305.06,284.02 L306.77,284.04 L308.49,284.07 L310.21,284.09 L311.92,284.11 L313.64,284.13 L315.36,284.16 L317.07,284.18 L318.79,284.20 L320.50,284.22 L322.22,284.24 L323.94,284.25 L325.65,284.27 L327.37,284.29 L329.09,284.31 L330.80,284.32 L332.52,284.34 L334.24,284.35 L335.95,284.37 L337.67,284.38 L339.39,284.40 L341.10,284.41 L342.82,284.42 L344.54,284.44 L346.25,284.45 L347.97,284.46 L349.69,284.47 L351.40,284.48 L353.12,284.49 L354.83,284.51 L356.55,284.52 L358.27,284.53 L359.98,284.54 L361.70,284.54 L363.42,284.55 L365.13,284.56 L366.85,284.57 L368.57,284.58 L370.28,284.59 L372.00,284.59 L373.72,284.60 L375.43,284.61 L377.15,284.62 L378.87,284.62 L380.58,284.63" stroke="#ff9fcf"/>
<path d="M23.55,163.00 L25.27,165.28 L26.98,167.56 L28.70,169.84 L30.42,172.12 L32.13,174.39 L33.85,176.66 L35.57,178.93 L37.28,181.19 L39.00,183.45 L40.72,185.70 L42.43,187.95 L44.15,190.19 L45.86,192.42 L47.58,194.63 L49.30,196.84 L51.01,199.04 L52.73,201.23 L54.45,203.40 L56.16,205.56 L57.88,207.70 L59.60,209.82 L61.31,211.93 L63.03,214.02 L64.75,216.08 L66.46,218.13 L68.18,220.15 L69.90,222.14 L71.61,224.11 L73.33,226.06 L75.05,227.97 L76.76,229.86 L78.48,231.71 L80.19,233.54 L81.91,235.33 L83.63,237.08 L85.34,238.80 L87.06,240.48 L88.78,242.13 L90.49,243.74 L92.21,245.31 L93.93,246.84 L95.64,248.33 L97.36,249.78 L99.08,251.19 L100.79,252.56 L102.51,253.88 L104.23,255.17 L105.94,256.41 L107.66,257.61 L109.37,258.77 L111.09,259.89 L112.81,260.96 L114.52,262.00 L116.24,262.99 L117.96,263.95 L119.67,264.87 L121.39,265.75 L123.11,266.59 L124.82,267.40 L126.54,268.18 L128.26,268.92 L129.97,269.64 L131.69,270.32 L133.41,270.98 L135.12,271.61 L136.84,272.23 L138.56,272.81 L140.27,273.38 L141.99,273.94 L143.71,274.47 L145.42,274.99 L147.14,275.50 L148.85,276.00 L150.57,276.49 L152.29,276.96 L154.00,277.43 L155.72,277.88 L157.44,278.33 L159.15,278.76 L160.87,279.19 L162.59,279.60 L164.30,280.00 L166.02,280.38 L167.74,280.75 L169.45,281.11 L171.17,281.45 L172.89,281.77 L174.60,282.07 L176.32,282.35 L178.03,282.61 L179.75,282.86 L181.47,283.08 L183.18,283.29 L184.90,283.47 L186.62,283.64 L188.33,283.79 L190.05,283.92 L191.77,284.04 L193.48,284.15 L195.20,284.24 L196.92,284.32 L198.63,284.39 L200.35,284.45 L202.07,284.50 L203.78,284.54 L205.50,284.58 L207.22,284.61 L208.93,284.64 L210.65,284.66" stroke="#e8303c"/>
<path d="M23.55,163.00 L25.27,164.47 L26.98,165.93 L28.70,167.40 L30.42,168.86 L32.13,170.33 L33.85,171.80 L35.57,173.28 L37.28,174.75 L39.00,176.23 L40.72,177.71 L42.43,179.20 L44.15,180.68 L45.86,182.17 L47.58,183.67 L49.30,185.17 L51.01,186.67 L52.73,188.17 L54.45,189.68 L56.16,191.19 L57.88,192.70 L59.60,194.22 L61.31,195.73 L63.03,197.25 L64.75,198.77 L66.46,200.29 L68.18,201.81 L69.90,203.32 L71.61,204.84 L73.33,206.35 L75.05,207.86 L76.76,209.37 L78.48,210.87 L80.19,212.37 L81.91,213.86 L83.63,215.34 L85.34,216.81 L87.06,218.27 L88.78,219.72 L90.49,221.16 L92.21,222.59 L93.93,224.01 L95.64,225.41 L97.36,226.79 L99.08,228.16 L100.79,229.51 L102.51,230.84 L104.23,232.15 L105.94,233.44 L107.66,234.71 L109.37,235.96 L111.09,237.19 L112.81,238.40 L114.52,239.58 L116.24,240.74 L117.96,241.87 L119.67,242.98 L121.39,244.06 L123.11,245.11 L124.82,246.15 L126.54,247.15 L128.26,248.13 L129.97,249.08 L131.69,250.00 L133.41,250.90 L135.12,251.77 L136.84,252.62 L138.56,253.44 L140.27,254.24 L141.99,255.01 L143.71,255.75 L145.42,256.47 L147.14,257.17 L148.85,257.84 L150.57,258.49 L152.29,259.12 L154.00,259.73 L155.72,260.32 L157.44,260.88 L159.15,261.43 L160.87,261.96 L162.59,262.48 L164.30,262.97 L166.02,263.45 L167.74,263.92 L169.45,264.37 L171.17,264.80 L172.89,265.23 L174.60,265.64 L176.32,266.05 L178.03,266.44 L179.75,266.82 L181.47,267.20 L183.18,267.56 L184.90,267.92 L186.62,268.27 L188.33,268.62 L190.05,268.95 L191.77,269.29 L193.48,269.62 L195.20,269.94 L196.92,270.26 L198.63,270.57 L200.35,270.88 L202.07,271.19 L203.78,271.49 L205.50,271.78 L207.22,272.08 L208.93,272.37 L210.65,272.65 L212.37,272.93 L214.08,273.21 L215.80,273.48 L217.51,273.74 L219.23,274.00 L220.95,274.26 L222.66,274.50 L224.38,274.75 L226.10,274.98 L227.81,275.22 L229.53,275.44 L231.25,275.66 L232.96,275.87 L234.68,276.07 L236.40,276.27 L238.11,276.46 L239.83,276.64 L241.55,276.82 L243.26,276.99 L244.98,277.15 L246.69,277.30 L248.41,277.45 L250.13,277.59 L251.84,277.73 L253.56,277.85 L255.28,277.97 L256.99,278.09 L258.71,278.20 L260.43,278.30 L262.14,278.40 L263.86,278.49 L265.58,278.58 L267.29,278.66 L269.01,278.74 L270.73,278.81 L272.44,278.88 L274.16,278.95 L275.88,279.01 L277.59,279.07 L279.31,279.13 L281.02,279.18 L282.74,279.23 L284.46,279.28 L286.17,279.33 L287.89,279.37 L289.61,279.41 L291.32,279.46 L293.04,279.50 L294.76,279.53 L296.47,279.57 L298.19,279.61 L299.91,279.64 L301.62,279.68 L303.34,279.71 L305.06,279.74 L306.77,279.77 L308.49,279.80 L310.21,279.84 L311.92,279.87 L313.64,279.90 L315.36,279.93 L317.07,279.95 L318.79,279.98 L320.50,280.01 L322.22,280.04 L323.94,280.07 L325.65,280.10 L327.37,280.12 L329.09,280.15 L330.80,280.18 L332.52,280.21 L334.24,280.23 L335.95,280.26 L337.67,280.29 L339.39,280.32 L341.10,280.34 L342.82,280.37 L344.54,280.40 L346.25,280.42 L347.97,280.45 L349.69,280.47 L351.40,280.50 L353.12,280.53 L354.83,280.55 L356.55,280.58 L358.27,280.60 L359.98,280.63 L361.70,280.66 L363.42,280.68 L365.13,280.71 L366.85,280.73 L368.57,280.76 L370.28,280.78 L372.00,280.81 L373.72,280.83 L375.43,280.86 L377.15,280.88 L378.87,280.91 L380.58,280.93 L382.30,280.95 L384.01,280.98 L385.73,281.00 L387.45,281.03 L389.16,281.05 L390.88,281.08 L392.60,281.10 L394.31,281.12 L396.03,281.15 L397.75,281.17 L399.46,281.19 L401.18,281.22 L402.90,281.24 L404.61,281.26 L406.33,281.29 L408.05,281.31 L409.76,281.33 L411.48,281.35 L413.20,281.38 L414.91,281.40 L416.63,281.42 L418.34,281.44 L420.06,281.47 L421.78,281.49 L423.49,281.51 L425.21,281.53 L426.93,281.55 L428.64,281.58 L430.36,281.60 L432.08,281.62 L433.79,281.64 L435.51,281.66 L437.23,281.68 L438.94,281.71 L440.66,281.73 L442.38,281.75 L444.09,281.77 L445.81,281.79 L447.53,281.81 L449.24,281.83 L450.96,281.85 L452.68,281.87 L454.39,281.89 L456.11,281.91 L457.82,281.93 L459.54,281.95 L461.26,281.97 L462.97,281.99 L464.69,282.01 L466.41,282.03 L468.12,282.05 L469.84,282.07 L471.56,282.09 L473.27,282.11 L474.99,282.13 L476.71,282.15 L478.42,282.17 L480.14,282.18 L481.86,282.20 L483.57,282.22 L485.29,282.24 L487.00,282.26 L488.72,282.28 L490.44,282.30 L492.15,282.31 L493.87,282.33 L495.59,282.35 L497.30,282.37 L499.02,282.39 L500.74,282.40 L502.45,282.42 L504.17,282.44 L505.89,282.46 L507.60,282.47 L509.32,282.49 L511.04,282.51 L512.75,282.53 L514.47,282.54 L516.19,282.56 L517.90,282.58 L519.62,282.59 L521.33,282.61 L523.05,282.63 L524.77,282.64 L526.48,282.66 L528.20,282.67 L529.92,282.69 L531.63,282.71 L533.35,282.72 L535.07,282.74 L536.78,282.75 L538.50,282.77 L540.22,282.79 L541.93,282.80 L543.65,282.82 L545.37,282.83 L547.08,282.85 L548.80,282.86 L550.52,282.88 L552.23,282.89 L553.95,282.91 L555.66,282.92 L557.38,282.94 L559.10,282.95 L560.81,282.97 L562.53,282.98 L564.25,283.00 L565.96,283.01 L567.68,283.02 L569.40,283.04 L571.11,283.05 L572.83,283.07" stroke="#2aa39a"/>
<path d="M23.55,163.00 L25.27,164.75 L26.98,166.50 L28.70,168.25 L30.42,170.00 L32.13,171.75 L33.85,173.50 L35.57,175.25 L37.28,177.00 L39.00,178.74 L40.72,180.49 L42.43,182.23 L44.15,183.97 L45.86,185.71 L47.58,187.44 L49.30,189.17 L51.01,190.89 L52.73,192.61 L54.45,194.32 L56.16,196.03 L57.88,197.72 L59.60,199.41 L61.31,201.08 L63.03,202.75 L64.75,204.40 L66.46,206.04 L68.18,207.66 L69.90,209.27 L71.61,210.86 L73.33,212.43 L75.05,213.98 L76.76,215.52 L78.48,217.03 L80.19,218.52 L81.91,219.99 L83.63,221.44 L85.34,222.87 L87.06,224.27 L88.78,225.64 L90.49,227.00 L92.21,228.32 L93.93,229.63 L95.64,230.91 L97.36,232.16 L99.08,233.39 L100.79,234.59 L102.51,235.77 L104.23,236.93 L105.94,238.06 L107.66,239.17 L109.37,240.25 L111.09,241.31 L112.81,242.35 L114.52,243.37 L116.24,244.37 L117.96,245.35 L119.67,246.30 L121.39,247.24 L123.11,248.16 L124.82,249.06 L126.54,249.94 L128.26,250.81 L129.97,251.65 L131.69,252.49 L133.41,253.30 L135.12,254.11 L136.84,254.89 L138.56,255.67 L140.27,256.42 L141.99,257.17 L143.71,257.90 L145.42,258.62 L147.14,259.32 L148.85,260.02 L150.57,260.70 L152.29,261.37 L154.00,262.02 L155.72,262.67 L157.44,263.30 L159.15,263.92 L160.87,264.53 L162.59,265.12 L164.30,265.71 L166.02,266.28 L167.74,266.84 L169.45,267.39 L171.17,267.93 L172.89,268.46 L174.60,268.98 L176.32,269.48 L178.03,269.97 L179.75,270.46 L181.47,270.93 L183.18,271.38 L184.90,271.83 L186.62,272.27 L188.33,272.69 L190.05,273.10 L191.77,273.51 L193.48,273.90 L195.20,274.28 L196.92,274.65 L198.63,275.01 L200.35,275.35 L202.07,275.69 L203.78,276.02 L205.50,276.34 L207.22,276.64 L208.93,276.94 L210.65,277.23 L212.37,277.51 L214.08,277.78 L215.80,278.04 L217.51,278.29 L219.23,278.53 L220.95,278.76 L222.66,278.99 L224.38,279.21 L226.10,279.42 L227.81,279.62 L229.53,279.81 L231.25,280.00 L232.96,280.18 L234.68,280.36 L236.40,280.52 L238.11,280.69 L239.83,280.84 L241.55,280.99 L243.26,281.13 L244.98,281.27 L246.69,281.40 L248.41,281.53 L250.13,281.65 L251.84,281.77 L253.56,281.89 L255.28,281.99 L256.99,282.10 L258.71,282.20 L260.43,282.30 L262.14,282.39 L263.86,282.48 L265.58,282.57 L267.29,282.65 L269.01,282.73 L270.73,282.80 L272.44,282.88 L274.16,282.95 L275.88,283.02 L277.59,283.08 L279.31,283.15 L281.02,283.21 L282.74,283.27 L284.46,283.32 L286.17,283.38 L287.89,283.43 L289.61,283.48 L291.32,283.53 L293.04,283.57 L294.76,283.62 L296.47,283.66 L298.19,283.71 L299.91,283.75 L301.62,283.78 L303.34,283.82 L305.06,283.86 L306.77,283.89 L308.49,283.93 L310.21,283.96 L311.92,283.99 L313.64,284.02 L315.36,284.05 L317.07,284.08 L318.79,284.11 L320.50,284.13 L322.22,284.16 L323.94,284.18 L325.65,284.21 L327.37,284.23 L329.09,284.25 L330.80,284.27 L332.52,284.29 L334.24,284.31 L335.95,284.33 L337.67,284.35 L339.39,284.37 L341.10,284.38 L342.82,284.40 L344.54,284.42 L346.25,284.43 L347.97,284.45 L349.69,284.46 L351.40,284.47 L353.12,284.49 L354.83,284.50 L356.55,284.51 L358.27,284.52 L359.98,284.53 L361.70,284.55 L363.42,284.56 L365.13,284.57 L366.85,284.58 L368.57,284.58 L370.28,284.59 L372.00,284.60 L373.72,284.61 L375.43,284.62 L377.15,284.63" stroke="#ff8a22"/>
<path d="M23.55,163.00 L25.27,164.53 L26.98,166.06 L28.70,167.60 L30.42,169.13 L32.13,170.68 L33.85,172.22 L35.57,173.78 L37.28,175.34 L39.00,176.92 L40.72,178.50 L42.43,180.09 L44.15,181.69 L45.86,183.30 L47.58,184.93 L49.30,186.56 L51.01,188.20 L52.73,189.86 L54.45,191.52 L56.16,193.20 L57.88,194.88 L59.60,196.57 L61.31,198.26 L63.03,199.96 L64.75,201.67 L66.46,203.37 L68.18,205.08 L69.90,206.78 L71.61,208.48 L73.33,210.18 L75.05,211.87 L76.76,213.55 L78.48,215.22 L80.19,216.88 L81.91,218.52 L83.63,220.14 L85.34,221.75 L87.06,223.33 L88.78,224.90 L90.49,226.43 L92.21,227.95 L93.93,229.43 L95.64,230.89 L97.36,232.31 L99.08,233.71 L100.79,235.07 L102.51,236.40 L104.23,237.69 L105.94,238.95 L107.66,240.18 L109.37,241.37 L111.09,242.52 L112.81,243.64 L114.52,244.72 L116.24,245.77 L117.96,246.78 L119.67,247.76 L121.39,248.70 L123.11,249.62 L124.82,250.50 L126.54,251.35 L128.26,252.17 L129.97,252.96 L131.69,253.73 L133.41,254.47 L135.12,255.18 L136.84,255.88 L138.56,256.55 L140.27,257.20 L141.99,257.83 L143.71,258.44 L145.42,259.04 L147.14,259.62 L148.85,260.19 L150.57,260.74 L152.29,261.29 L154.00,261.82 L155.72,262.35 L157.44,262.86 L159.15,263.37 L160.87,263.87 L162.59,264.36 L164.30,264.85 L166.02,265.33 L167.74,265.80 L169.45,266.27 L171.17,266.74 L172.89,267.20 L174.60,267.66 L176.32,268.11 L178.03,268.55 L179.75,269.00 L181.47,269.43 L183.18,269.86 L184.90,270.29 L186.62,270.71 L188.33,271.12 L190.05,271.53 L191.77,271.92 L193.48,272.31 L195.20,272.70 L196.92,273.07 L198.63,273.44 L200.35,273.80 L202.07,274.14 L203.78,274.48 L205.50,274.81 L207.22,275.13 L208.93,275.44 L210.65,275.74 L212.37,276.03 L214.08,276.31 L215.80,276.58 L217.51,276.84 L219.23,277.09 L220.95,277.33 L222.66,277.56 L224.38,277.79 L226.10,278.00 L227.81,278.20 L229.53,278.40 L231.25,278.58 L232.96,278.76 L234.68,278.94 L236.40,279.10 L238.11,279.26 L239.83,279.41 L241.55,279.55 L243.26,279.69 L244.98,279.82 L246.69,279.95 L248.41,280.07 L250.13,280.19 L251.84,280.30 L253.56,280.41 L255.28,280.52 L256.99,280.62 L258.71,280.72 L260.43,280.81 L262.14,280.90 L263.86,280.99 L265.58,281.08 L267.29,281.17 L269.01,281.25 L270.73,281.33 L272.44,281.41 L274.16,281.49 L275.88,281.56 L277.59,281.63 L279.31,281.71 L281.02,281.78 L282.74,281.85 L284.46,281.92 L286.17,281.98 L287.89,282.05 L289.61,282.12 L291.32,282.18 L293.04,282.24 L294.76,282.30 L296.47,282.37 L298.19,282.43 L299.91,282.48 L301.62,282.54 L303.34,282.60 L305.06,282.66 L306.77,282.71 L308.49,282.77 L310.21,282.82 L311.92,282.87 L313.64,282.92 L315.36,282.97 L317.07,283.02 L318.79,283.07 L320.50,283.12 L322.22,283.17 L323.94,283.21 L325.65,283.26 L327.37,283.30 L329.09,283.35 L330.80,283.39 L332.52,283.43 L334.24,283.47 L335.95,283.51 L337.67,283.55 L339.39,283.59 L341.10,283.63 L342.82,283.67 L344.54,283.70 L346.25,283.74 L347.97,283.77 L349.69,283.80 L351.40,283.84 L353.12,283.87 L354.83,283.90 L356.55,283.93 L358.27,283.96 L359.98,283.99 L361.70,284.02 L363.42,284.04 L365.13,284.07 L366.85,284.10 L368.57,284.12 L370.28,284.14 L372.00,284.17 L373.72,284.19 L375.43,284.21 L377.15,284.24 L378.87,284.26 L380.58,284.28 L382.30,284.30 L384.01,284.32 L385.73,284.33 L387.45,284.35 L389.16,284.37 L390.88,284.39 L392.60,284.40 L394.31,284.42 L396.03,284.43 L397.75,284.45 L399.46,284.46 L401.18,284.48 L402.90,284.49 L404.61,284.50 L406.33,284.52 L408.05,284.53 L409.76,284.54 L411.48,284.55 L413.20,284.56 L414.91,284.57 L416.63,284.58 L418.34,284.59 L420.06,284.60 L421.78,284.61 L423.49,284.62 L425.21,284.63" stroke="#3b3bb8"/>
<path d="M23.55,163.00 L25.27,164.41 L26.98,165.82 L28.70,167.23 L30.42,168.64 L32.13,170.05 L33.85,171.47 L35.57,172.89 L37.28,174.32 L39.00,175.74 L40.72,177.18 L42.43,178.62 L44.15,180.06 L45.86,181.51 L47.58,182.96 L49.30,184.42 L51.01,185.89 L52.73,187.36 L54.45,188.84 L56.16,190.32 L57.88,191.81 L59.60,193.31 L61.31,194.80 L63.03,196.31 L64.75,197.81 L66.46,199.32 L68.18,200.83 L69.90,202.34 L71.61,203.85 L73.33,205.37 L75.05,206.88 L76.76,208.39 L78.48,209.90 L80.19,211.40 L81.91,212.90 L83.63,214.39 L85.34,215.88 L87.06,217.35 L88.78,218.82 L90.49,220.28 L92.21,221.73 L93.93,223.16 L95.64,224.58 L97.36,225.98 L99.08,227.37 L100.79,228.74 L102.51,230.10 L104.23,231.43 L105.94,232.75 L107.66,234.04 L109.37,235.32 L111.09,236.57 L112.81,237.79 L114.52,239.00 L116.24,240.18 L117.96,241.33 L119.67,242.46 L121.39,243.56 L123.11,244.64 L124.82,245.69 L126.54,246.71 L128.26,247.71 L129.97,248.68 L131.69,249.62 L133.41,250.53 L135.12,251.42 L136.84,252.28 L138.56,253.11 L140.27,253.92 L141.99,254.70 L143.71,255.45 L145.42,256.18 L147.14,256.89 L148.85,257.56 L150.57,258.22 L152.29,258.85 L154.00,259.46 L155.72,260.05 L157.44,260.62 L159.15,261.17 L160.87,261.69 L162.59,262.21 L164.30,262.70 L166.02,263.19 L167.74,263.66 L169.45,264.11 L171.17,264.56 L172.89,265.00 L174.60,265.44 L176.32,265.87 L178.03,266.29 L179.75,266.72 L181.47,267.14 L183.18,267.57 L184.90,267.99 L186.62,268.42 L188.33,268.86 L190.05,269.29 L191.77,269.73 L193.48,270.17 L195.20,270.61 L196.92,271.05 L198.63,271.49 L200.35,271.93 L202.07,272.36 L203.78,272.79 L205.50,273.20 L207.22,273.61 L208.93,274.00 L210.65,274.38 L212.37,274.74 L214.08,275.09 L215.80,275.41 L217.51,275.72 L219.23,276.02 L220.95,276.29 L222.66,276.55 L224.38,276.79 L226.10,277.01 L227.81,277.22 L229.53,277.42 L231.25,277.60 L232.96,277.77 L234.68,277.92 L236.40,278.07 L238.11,278.21 L239.83,278.35 L241.55,278.47 L243.26,278.59 L244.98,278.71 L246.69,278.82 L248.41,278.92 L250.13,279.03 L251.84,279.13 L253.56,279.23 L255.28,279.32 L256.99,279.42 L258.71,279.51 L260.43,279.60 L262.14,279.69 L263.86,279.77 L265.58,279.86 L267.29,279.94 L269.01,280.03 L270.73,280.11 L272.44,280.19 L274.16,280.27 L275.88,280.35 L277.59,280.43 L279.31,280.50 L281.02,280.58 L282.74,280.65 L284.46,280.72 L286.17,280.80 L287.89,280.87 L289.61,280.94 L291.32,281.01 L293.04,281.08 L294.76,281.14 L296.47,281.21 L298.19,281.27 L299.91,281.34 L301.62,281.40 L303.34,281.46 L305.06,281.53 L306.77,281.59 L308.49,281.65 L310.21,281.71 L311.92,281.76 L313.64,281.82 L315.36,281.88 L317.07,281.93 L318.79,281.99 L320.50,282.04 L322.22,282.09 L323.94,282.15 L325.65,282.20 L327.37,282.25 L329.09,282.30 L330.80,282.35 L332.52,282.40 L334.24,282.44 L335.95,282.49 L337.67,282.54 L339.39,282.58 L341.10,282.63 L342.82,282.67 L344.54,282.71 L346.25,282.75 L347.97,282.80 L349.69,282.84 L351.40,282.88 L353.12,282.92 L354.83,282.96 L356.55,282.99 L358.27,283.03 L359.98,283.07 L361.70,283.10 L363.42,283.14 L365.13,283.18 L366.85,283.21 L368.57,283.24 L370.28,283.28 L372.00,283.31 L373.72,283.34 L375.43,283.37 L377.15,283.40 L378.87,283.43 L380.58,283.46 L382.30,283.49 L384.01,283.52 L385.73,283.55 L387.45,283.58 L389.16,283.60 L390.88,283.63 L392.60,283.66 L394.31,283.68 L396.03,283.71 L397.75,283.73 L399.46,283.76 L401.18,283.78 L402.90,283.80 L404.61,283.83 L406.33,283.85 L408.05,283.87 L409.76,283.89 L411.48,283.91 L413.20,283.93 L414.91,283.95 L416.63,283.97 L418.34,283.99 L420.06,284.01 L421.78,284.03 L423.49,284.05 L425.21,284.07 L426.93,284.08 L428.64,284.10 L430.36,284.12 L432.08,284.14 L433.79,284.15 L435.51,284.17 L437.23,284.18 L438.94,284.20 L440.66,284.21 L442.38,284.23 L444.09,284.24 L445.81,284.25 L447.53,284.27 L449.24,284.28 L450.96,284.29 L452.68,284.31 L454.39,284.32 L456.11,284.33 L457.82,284.34 L459.54,284.35 L461.26,284.37 L462.97,284.38 L464.69,284.39 L466.41,284.40 L468.12,284.41 L469.84,284.42 L471.56,284.43 L473.27,284.44 L474.99,284.45 L476.71,284.46 L478.42,284.47 L480.14,284.48 L481.86,284.48 L483.57,284.49 L485.29,284.50 L487.00,284.51 L488.72,284.52 L490.44,284.52 L492.15,284.53 L493.87,284.54 L495.59,284.55 L497.30,284.55 L499.02,284.56 L500.74,284.57 L502.45,284.57 L504.17,284.58 L505.89,284.58 L507.60,284.59 L509.32,284.60 L511.04,284.60 L512.75,284.61 L514.47,284.61 L516.19,284.62 L572.83,284.73" stroke="#8fcdfa"/>
<path d="M23.55,163.00 L25.27,165.25 L26.98,167.49 L28.70,169.72 L30.42,171.94 L32.13,174.12 L33.85,176.28 L35.57,178.41 L37.28,180.50 L39.00,182.56 L40.72,184.57 L42.43,186.54 L44.15,188.48 L45.86,190.37 L47.58,192.23 L49.30,194.04 L51.01,195.83 L52.73,197.57 L54.45,199.29 L56.16,200.98 L57.88,202.65 L59.60,204.29 L61.31,205.90 L63.03,207.50 L64.75,209.08 L66.46,210.64 L68.18,212.18 L69.90,213.71 L71.61,215.22 L73.33,216.72 L75.05,218.20 L76.76,219.67 L78.48,221.13 L80.19,222.57 L81.91,224.00 L83.63,225.42 L85.34,226.82 L87.06,228.20 L88.78,229.57 L90.49,230.93 L92.21,232.27 L93.93,233.59 L95.64,234.90 L97.36,236.19 L99.08,237.46 L100.79,238.72 L102.51,239.96 L104.23,241.18 L105.94,242.38 L107.66,243.57 L109.37,244.73 L111.09,245.88 L112.81,247.01 L114.52,248.12 L116.24,249.21 L117.96,250.28 L119.67,251.33 L121.39,252.36 L123.11,253.37 L124.82,254.35 L126.54,255.32 L128.26,256.27 L129.97,257.20 L131.69,258.11 L133.41,258.99 L135.12,259.86 L136.84,260.71 L138.56,261.53 L140.27,262.34 L141.99,263.12 L143.71,263.89 L145.42,264.64 L147.14,265.36 L148.85,266.07 L150.57,266.75 L152.29,267.42 L154.00,268.07 L155.72,268.70 L157.44,269.31 L159.15,269.90 L160.87,270.47 L162.59,271.03 L164.30,271.56 L166.02,272.09 L167.74,272.59 L169.45,273.08 L171.17,273.55 L172.89,274.00 L174.60,274.44 L176.32,274.86 L178.03,275.27 L179.75,275.66 L181.47,276.04 L183.18,276.40 L184.90,276.76 L186.62,277.09 L188.33,277.42 L190.05,277.73 L191.77,278.03 L193.48,278.32 L195.20,278.59 L196.92,278.86 L198.63,279.11 L200.35,279.35 L202.07,279.59 L203.78,279.81 L205.50,280.02 L207.22,280.23 L208.93,280.42 L210.65,280.61 L212.37,280.79 L214.08,280.96 L215.80,281.12 L217.51,281.28 L219.23,281.43 L220.95,281.57 L222.66,281.71 L224.38,281.84 L226.10,281.96 L227.81,282.08 L229.53,282.19 L231.25,282.30 L232.96,282.40 L234.68,282.50 L236.40,282.59 L238.11,282.68 L239.83,282.76 L241.55,282.84 L243.26,282.92 L244.98,282.99 L246.69,283.06 L248.41,283.13 L250.13,283.19 L251.84,283.25 L253.56,283.31 L255.28,283.36 L256.99,283.42 L258.71,283.47 L260.43,283.51 L262.14,283.56 L263.86,283.60 L265.58,283.65 L267.29,283.69 L269.01,283.72 L270.73,283.76 L272.44,283.80 L274.16,283.83 L275.88,283.86 L277.59,283.89 L279.31,283.92 L281.02,283.95 L282.74,283.98 L284.46,284.01 L286.17,284.03 L287.89,284.05 L289.61,284.08 L291.32,284.10 L293.04,284.12 L294.76,284.14 L296.47,284.16 L298.19,284.18 L299.91,284.20 L301.62,284.22 L303.34,284.24 L305.06,284.26 L306.77,284.27 L308.49,284.29 L310.21,284.30 L311.92,284.32 L313.64,284.33 L315.36,284.35 L317.07,284.36 L318.79,284.37 L320.50,284.39 L322.22,284.40 L323.94,284.41 L325.65,284.42 L327.37,284.43 L329.09,284.45 L330.80,284.46 L332.52,284.47 L334.24,284.48 L335.95,284.49 L337.67,284.50 L339.39,284.51 L341.10,284.52 L342.82,284.52 L344.54,284.53 L346.25,284.54 L347.97,284.55 L349.69,284.56 L351.40,284.56 L353.12,284.57 L354.83,284.58 L356.55,284.59 L358.27,284.59 L359.98,284.60 L361.70,284.61 L363.42,284.61 L365.13,284.62 L572.83,284.80" stroke="#9a3cb8"/>
<path d="M23.55,163.00 L25.27,165.43 L26.98,167.86 L28.70,170.28 L30.42,172.70 L32.13,175.12 L33.85,177.52 L35.57,179.92 L37.28,182.31 L39.00,184.68 L40.72,187.04 L42.43,189.39 L44.15,191.72 L45.86,194.04 L47.58,196.33 L49.30,198.61 L51.01,200.86 L52.73,203.09 L54.45,205.30 L56.16,207.48 L57.88,209.64 L59.60,211.77 L61.31,213.87 L63.03,215.95 L64.75,217.99 L66.46,220.01 L68.18,221.99 L69.90,223.94 L71.61,225.86 L73.33,227.74 L75.05,229.59 L76.76,231.41 L78.48,233.19 L80.19,234.94 L81.91,236.65 L83.63,238.32 L85.34,239.96 L87.06,241.57 L88.78,243.13 L90.49,244.66 L92.21,246.15 L93.93,247.61 L95.64,249.03 L97.36,250.41 L99.08,251.75 L100.79,253.06 L102.51,254.33 L104.23,255.57 L105.94,256.77 L107.66,257.93 L109.37,259.06 L111.09,260.16 L112.81,261.22 L114.52,262.25 L116.24,263.24 L117.96,264.20 L119.67,265.13 L121.39,266.02 L123.11,266.89 L124.82,267.72 L126.54,268.53 L128.26,269.30 L129.97,270.04 L131.69,270.76 L133.41,271.45 L135.12,272.11 L136.84,272.75 L138.56,273.36 L140.27,273.94 L141.99,274.50 L143.71,275.04 L145.42,275.56 L147.14,276.05 L148.85,276.52 L150.57,276.97 L152.29,277.40 L154.00,277.80 L155.72,278.19 L157.44,278.57 L159.15,278.92 L160.87,279.26 L162.59,279.58 L164.30,279.88 L166.02,280.17 L167.74,280.45 L169.45,280.71 L171.17,280.96 L172.89,281.19 L174.60,281.41 L176.32,281.62 L178.03,281.82 L179.75,282.01 L181.47,282.19 L183.18,282.36 L184.90,282.51 L186.62,282.66 L188.33,282.80 L190.05,282.94 L191.77,283.06 L193.48,283.18 L195.20,283.29 L196.92,283.39 L198.63,283.49 L200.35,283.58 L202.07,283.66 L203.78,283.74 L205.50,283.82 L207.22,283.89 L208.93,283.96 L210.65,284.02 L212.37,284.07 L214.08,284.13 L215.80,284.18 L217.51,284.22 L219.23,284.27 L220.95,284.31 L222.66,284.35 L224.38,284.38 L226.10,284.41 L227.81,284.44 L229.53,284.47" stroke="#000" stroke-width="1.5"/>
<path d="M23.55,159.80 L25.45,163.00 L23.55,166.20 L21.65,163.00Z" fill="#000" stroke="none"/>
<path d="M30.42,169.50 L32.32,172.70 L30.42,175.90 L28.52,172.70Z" fill="#000" stroke="none"/>
<path d="M37.28,179.11 L39.18,182.31 L37.28,185.51 L35.38,182.31Z" fill="#000" stroke="none"/>
<path d="M44.15,188.52 L46.05,191.72 L44.15,194.92 L42.25,191.72Z" fill="#000" stroke="none"/>
<path d="M51.01,197.66 L52.91,200.86 L51.01,204.06 L49.11,200.86Z" fill="#000" stroke="none"/>
<path d="M57.88,206.44 L59.78,209.64 L57.88,212.84 L55.98,209.64Z" fill="#000" stroke="none"/>
<path d="M64.75,214.79 L66.65,217.99 L64.75,221.19 L62.85,217.99Z" fill="#000" stroke="none"/>
<path d="M71.61,222.66 L73.51,225.86 L71.61,229.06 L69.71,225.86Z" fill="#000" stroke="none"/>
<path d="M78.48,229.99 L80.38,233.19 L78.48,236.39 L76.58,233.19Z" fill="#000" stroke="none"/>
<path d="M85.34,236.76 L87.24,239.96 L85.34,243.16 L83.44,239.96Z" fill="#000" stroke="none"/>
<path d="M92.21,242.95 L94.11,246.15 L92.21,249.35 L90.31,246.15Z" fill="#000" stroke="none"/>
<path d="M99.08,248.55 L100.98,251.75 L99.08,254.95 L97.18,251.75Z" fill="#000" stroke="none"/>
<path d="M105.94,253.57 L107.84,256.77 L105.94,259.97 L104.04,256.77Z" fill="#000" stroke="none"/>
<path d="M112.81,258.02 L114.71,261.22 L112.81,264.42 L110.91,261.22Z" fill="#000" stroke="none"/>
<path d="M119.67,261.93 L121.57,265.13 L119.67,268.33 L117.77,265.13Z" fill="#000" stroke="none"/>
<path d="M126.54,265.33 L128.44,268.53 L126.54,271.73 L124.64,268.53Z" fill="#000" stroke="none"/>
<path d="M133.41,268.25 L135.31,271.45 L133.41,274.65 L131.51,271.45Z" fill="#000" stroke="none"/>
<path d="M140.27,270.74 L142.17,273.94 L140.27,277.14 L138.37,273.94Z" fill="#000" stroke="none"/>
<path d="M147.14,272.85 L149.04,276.05 L147.14,279.25 L145.24,276.05Z" fill="#000" stroke="none"/>
<path d="M154.00,274.60 L155.90,277.80 L154.00,281.00 L152.10,277.80Z" fill="#000" stroke="none"/>
<path d="M160.87,276.06 L162.77,279.26 L160.87,282.46 L158.97,279.26Z" fill="#000" stroke="none"/>
<path d="M167.74,277.25 L169.64,280.45 L167.74,283.65 L165.84,280.45Z" fill="#000" stroke="none"/>
<path d="M174.60,278.21 L176.50,281.41 L174.60,284.61 L172.70,281.41Z" fill="#000" stroke="none"/>
<path d="M181.47,278.99 L183.37,282.19 L181.47,285.39 L179.57,282.19Z" fill="#000" stroke="none"/>
<path d="M188.33,279.60 L190.23,282.80 L188.33,286.00 L186.43,282.80Z" fill="#000" stroke="none"/>
<path d="M195.20,280.09 L197.10,283.29 L195.20,286.49 L193.30,283.29Z" fill="#000" stroke="none"/>
<path d="M202.07,280.46 L203.97,283.66 L202.07,286.86 L200.17,283.66Z" fill="#000" stroke="none"/>
<path d="M208.93,280.76 L210.83,283.96 L208.93,287.16 L207.03,283.96Z" fill="#000" stroke="none"/>
<path d="M215.80,280.98 L217.70,284.18 L215.80,287.38 L213.90,284.18Z" fill="#000" stroke="none"/>
<path d="M222.66,281.15 L224.56,284.35 L222.66,287.55 L220.76,284.35Z" fill="#000" stroke="none"/>
<path d="M229.53,281.27 L231.43,284.47 L229.53,287.67 L227.63,284.47Z" fill="#000" stroke="none"/>
<path d="M236.40,281.36 L238.30,284.56 L236.40,287.76 L234.50,284.56Z" fill="#000" stroke="none"/>
<path d="M243.26,281.43 L245.16,284.63 L243.26,287.83 L241.36,284.63Z" fill="#000" stroke="none"/>
<path d="M250.13,281.48 L252.03,284.68 L250.13,287.88 L248.23,284.68Z" fill="#000" stroke="none"/>
<path d="M256.99,281.52 L258.89,284.72 L256.99,287.92 L255.09,284.72Z" fill="#000" stroke="none"/>
<path d="M263.86,281.54 L265.76,284.74 L263.86,287.94 L261.96,284.74Z" fill="#000" stroke="none"/>
<path d="M270.73,281.56 L272.63,284.76 L270.73,287.96 L268.83,284.76Z" fill="#000" stroke="none"/>
<path d="M277.59,281.57 L279.49,284.77 L277.59,287.97 L275.69,284.77Z" fill="#000" stroke="none"/>
<path d="M284.46,281.58 L286.36,284.78 L284.46,287.98 L282.56,284.78Z" fill="#000" stroke="none"/>
<path d="M291.32,281.59 L293.22,284.79 L291.32,287.99 L289.42,284.79Z" fill="#000" stroke="none"/>
<path d="M298.19,281.59 L300.09,284.79 L298.19,287.99 L296.29,284.79Z" fill="#000" stroke="none"/>
<path d="M305.06,281.59 L306.96,284.79 L305.06,287.99 L303.16,284.79Z" fill="#000" stroke="none"/>
<path d="M311.92,281.60 L313.82,284.80 L311.92,288.00 L310.02,284.80Z" fill="#000" stroke="none"/>
<path d="M318.79,281.60 L320.69,284.80 L318.79,288.00 L316.89,284.80Z" fill="#000" stroke="none"/>
<path d="M325.65,281.60 L327.55,284.80 L325.65,288.00 L323.75,284.80Z" fill="#000" stroke="none"/>
<path d="M332.52,281.60 L334.42,284.80 L332.52,288.00 L330.62,284.80Z" fill="#000" stroke="none"/>
<path d="M339.39,281.60 L341.29,284.80 L339.39,288.00 L337.49,284.80Z" fill="#000" stroke="none"/>
<path d="M346.25,281.60 L348.15,284.80 L346.25,288.00 L344.35,284.80Z" fill="#000" stroke="none"/>
<path d="M353.12,281.60 L355.02,284.80 L353.12,288.00 L351.22,284.80Z" fill="#000" stroke="none"/>
<path d="M359.98,281.60 L361.88,284.80 L359.98,288.00 L358.08,284.80Z" fill="#000" stroke="none"/>
<path d="M366.85,281.60 L368.75,284.80 L366.85,288.00 L364.95,284.80Z" fill="#000" stroke="none"/>
<path d="M373.72,281.60 L375.62,284.80 L373.72,288.00 L371.82,284.80Z" fill="#000" stroke="none"/>
<path d="M380.58,281.60 L382.48,284.80 L380.58,288.00 L378.68,284.80Z" fill="#000" stroke="none"/>
<path d="M387.45,281.60 L389.35,284.80 L387.45,288.00 L385.55,284.80Z" fill="#000" stroke="none"/>
<path d="M394.31,281.60 L396.21,284.80 L394.31,288.00 L392.41,284.80Z" fill="#000" stroke="none"/>
<path d="M401.18,281.60 L403.08,284.80 L401.18,288.00 L399.28,284.80Z" fill="#000" stroke="none"/>
<path d="M408.05,281.60 L409.95,284.80 L408.05,288.00 L406.15,284.80Z" fill="#000" stroke="none"/>
<path d="M414.91,281.60 L416.81,284.80 L414.91,288.00 L413.01,284.80Z" fill="#000" stroke="none"/>
<path d="M421.78,281.60 L423.68,284.80 L421.78,288.00 L419.88,284.80Z" fill="#000" stroke="none"/>
<path d="M428.64,281.60 L430.54,284.80 L428.64,288.00 L426.74,284.80Z" fill="#000" stroke="none"/>
<path d="M435.51,281.60 L437.41,284.80 L435.51,288.00 L433.61,284.80Z" fill="#000" stroke="none"/>
<path d="M442.38,281.60 L444.28,284.80 L442.38,288.00 L440.48,284.80Z" fill="#000" stroke="none"/>
<path d="M449.24,281.60 L451.14,284.80 L449.24,288.00 L447.34,284.80Z" fill="#000" stroke="none"/>
<path d="M456.11,281.60 L458.01,284.80 L456.11,288.00 L454.21,284.80Z" fill="#000" stroke="none"/>
<path d="M462.97,281.60 L464.87,284.80 L462.97,288.00 L461.07,284.80Z" fill="#000" stroke="none"/>
<path d="M469.84,281.60 L471.74,284.80 L469.84,288.00 L467.94,284.80Z" fill="#000" stroke="none"/>
<path d="M476.71,281.60 L478.61,284.80 L476.71,288.00 L474.81,284.80Z" fill="#000" stroke="none"/>
<path d="M483.57,281.60 L485.47,284.80 L483.57,288.00 L481.67,284.80Z" fill="#000" stroke="none"/>
<path d="M490.44,281.60 L492.34,284.80 L490.44,288.00 L488.54,284.80Z" fill="#000" stroke="none"/>
<path d="M497.30,281.60 L499.20,284.80 L497.30,288.00 L495.40,284.80Z" fill="#000" stroke="none"/>
<path d="M504.17,281.60 L506.07,284.80 L504.17,288.00 L502.27,284.80Z" fill="#000" stroke="none"/>
<path d="M511.04,281.60 L512.94,284.80 L511.04,288.00 L509.14,284.80Z" fill="#000" stroke="none"/>
<path d="M517.90,281.60 L519.80,284.80 L517.90,288.00 L516.00,284.80Z" fill="#000" stroke="none"/>
<path d="M524.77,281.60 L526.67,284.80 L524.77,288.00 L522.87,284.80Z" fill="#000" stroke="none"/>
<path d="M531.63,281.60 L533.53,284.80 L531.63,288.00 L529.73,284.80Z" fill="#000" stroke="none"/>
<path d="M538.50,281.60 L540.40,284.80 L538.50,288.00 L536.60,284.80Z" fill="#000" stroke="none"/>
<path d="M545.37,281.60 L547.27,284.80 L545.37,288.00 L543.47,284.80Z" fill="#000" stroke="none"/>
<path d="M552.23,281.60 L554.13,284.80 L552.23,288.00 L550.33,284.80Z" fill="#000" stroke="none"/>
<path d="M559.10,281.60 L561.00,284.80 L559.10,288.00 L557.20,284.80Z" fill="#000" stroke="none"/>
<path d="M565.96,281.60 L567.86,284.80 L565.96,288.00 L564.06,284.80Z" fill="#000" stroke="none"/>
<path d="M572.83,281.60 L574.73,284.80 L572.83,288.00 L570.93,284.80Z" fill="#000" stroke="none"/>
</g>
<path d="M23.55,163.1 H572.8299999999999" stroke="#555" stroke-width="1"/>
<path d="M572.8299999999999,163.1 V285.3" stroke="#666" stroke-width="1"/>
<path d="M23.55,285.3 H572.8299999999999" stroke="#bdbdbd" stroke-width="1.4"/>
<path d="M23.55,162.6 V287.3" stroke="#222" stroke-width="1"/>
<path d="M21.55,285.30 H23.55" stroke="#222" stroke-width="0.9"/>
<text x="16.55" y="287.40" font-size="9.0" textLength="4.15" lengthAdjust="spacingAndGlyphs" class="yt">0</text>
<path d="M21.55,260.86 H23.55" stroke="#222" stroke-width="0.9"/>
<text x="12.41" y="262.96" font-size="9.0" textLength="8.31" lengthAdjust="spacingAndGlyphs" class="yt">20</text>
<path d="M21.55,236.42 H23.55" stroke="#222" stroke-width="0.9"/>
<text x="12.41" y="238.52" font-size="9.0" textLength="8.31" lengthAdjust="spacingAndGlyphs" class="yt">40</text>
<path d="M21.55,211.98 H23.55" stroke="#222" stroke-width="0.9"/>
<text x="12.41" y="214.08" font-size="9.0" textLength="8.31" lengthAdjust="spacingAndGlyphs" class="yt">60</text>
<path d="M21.55,187.54 H23.55" stroke="#222" stroke-width="0.9"/>
<text x="12.41" y="189.64" font-size="9.0" textLength="8.31" lengthAdjust="spacingAndGlyphs" class="yt">80</text>
<path d="M21.55,163.10 H23.55" stroke="#222" stroke-width="0.9"/>
<text x="8.86" y="165.20" font-size="9.0" textLength="12.46" lengthAdjust="spacingAndGlyphs" class="yt">100</text>
<path d="M23.55,285.3 V287.3" stroke="#222" stroke-width="0.9"/>
<text x="23.55" y="293.80" text-anchor="middle" class="xt">0</text>
<path d="M92.21,285.3 V287.3" stroke="#222" stroke-width="0.9"/>
<path d="M92.76,293.80 V288.65 L90.46,290.65" fill="none" stroke="#111" stroke-width="0.95" stroke-linejoin="miter"/>
<path d="M160.87,285.3 V287.3" stroke="#222" stroke-width="0.9"/>
<text x="160.87" y="293.80" text-anchor="middle" class="xt">2</text>
<path d="M229.53,285.3 V287.3" stroke="#222" stroke-width="0.9"/>
<text x="229.53" y="293.80" text-anchor="middle" class="xt">3</text>
<path d="M298.19,285.3 V287.3" stroke="#222" stroke-width="0.9"/>
<text x="298.19" y="293.80" text-anchor="middle" class="xt">4</text>
<path d="M366.85,285.3 V287.3" stroke="#222" stroke-width="0.9"/>
<text x="366.85" y="293.80" text-anchor="middle" class="xt">5</text>
<path d="M435.51,285.3 V287.3" stroke="#222" stroke-width="0.9"/>
<text x="435.51" y="293.80" text-anchor="middle" class="xt">6</text>
<path d="M504.17,285.3 V287.3" stroke="#222" stroke-width="0.9"/>
<text x="504.17" y="293.80" text-anchor="middle" class="xt">7</text>
<path d="M572.83,285.3 V287.3" stroke="#222" stroke-width="0.9"/>
<text x="572.83" y="293.80" text-anchor="middle" class="xt">8</text>
<path d="M493.2,17.20 H505.5" stroke="#22b026" stroke-width="1.5"/><text x="509.67" y="18.80" font-size="6.6" textLength="42.75" lengthAdjust="spacingAndGlyphs" class="lg">ACCESS-ESM1-5</text><path d="M493.2,25.14 H505.5" stroke="#1038e0" stroke-width="1.5"/><text x="509.43" y="26.74" font-size="6.6" textLength="18.64" lengthAdjust="spacingAndGlyphs" class="lg">CESM2</text><path d="M493.2,33.08 H505.5" stroke="#ff9fcf" stroke-width="1.5"/><text x="509.43" y="34.68" font-size="6.6" textLength="24.91" lengthAdjust="spacingAndGlyphs" class="lg">CanESM5</text><path d="M493.2,41.02 H505.5" stroke="#e8303c" stroke-width="1.5"/><text x="509.43" y="42.62" font-size="6.6" textLength="31.36" lengthAdjust="spacingAndGlyphs" class="lg">GFDL-ESM4</text><path d="M493.2,48.96 H505.5" stroke="#2aa39a" stroke-width="1.5"/><text x="509.44" y="50.56" font-size="6.6" textLength="20.63" lengthAdjust="spacingAndGlyphs" class="lg">GISS-E2</text><path d="M493.2,56.90 H505.5" stroke="#ff8a22" stroke-width="1.5"/><text x="509.27" y="58.50" font-size="6.6" textLength="33.01" lengthAdjust="spacingAndGlyphs" class="lg">MIROC-ES2L</text><path d="M493.2,64.84 H505.5" stroke="#3b3bb8" stroke-width="1.5"/><text x="509.25" y="66.44" font-size="6.6" textLength="41.10" lengthAdjust="spacingAndGlyphs" class="lg">MPI-ESM1-2-LR</text><path d="M493.2,72.78 H505.5" stroke="#8fcdfa" stroke-width="1.5"/><text x="509.24" y="74.38" font-size="6.6" textLength="35.14" lengthAdjust="spacingAndGlyphs" class="lg">NorESM2-LM</text><path d="M493.2,80.72 H505.5" stroke="#9a3cb8" stroke-width="1.5"/><text x="509.29" y="82.32" font-size="6.6" textLength="35.18" lengthAdjust="spacingAndGlyphs" class="lg">UKESM1-0-LL</text><path d="M493.8,88.66 H505.1" stroke="#000" stroke-width="1.2"/><path d="M499.5,85.56 L501.4,88.66 L499.5,91.76 L497.6,88.66Z" fill="#000"/><text x="509.40" y="90.26" font-size="6.6" textLength="57.50" lengthAdjust="spacingAndGlyphs" class="lg">Gaussian Expectation</text>
<text x="260.03" y="6.90" font-size="8.5" textLength="96.90" lengthAdjust="spacingAndGlyphs">Pre-industrial Example</text>
<text x="261.15" y="159.30" font-size="8.5" textLength="96.78" lengthAdjust="spacingAndGlyphs">After Emissions Cease</text>
<text x="258.70" y="148.50" font-size="6.7" textLength="98.45" lengthAdjust="spacingAndGlyphs">Regional Standard Difference</text>
<text x="258.00" y="301.20" font-size="6.7" textLength="98.70" lengthAdjust="spacingAndGlyphs">Regional Standard Difference</text>
<text transform="translate(5.60,124.81) rotate(-90)" font-size="6.9" textLength="111.99" lengthAdjust="spacingAndGlyphs">Fraction of Planetary Surface (%)</text>
<text transform="translate(5.60,277.81) rotate(-90)" font-size="6.9" textLength="112.50" lengthAdjust="spacingAndGlyphs">Fraction of Planetary Surface (%)</text>
</svg></body></html>
